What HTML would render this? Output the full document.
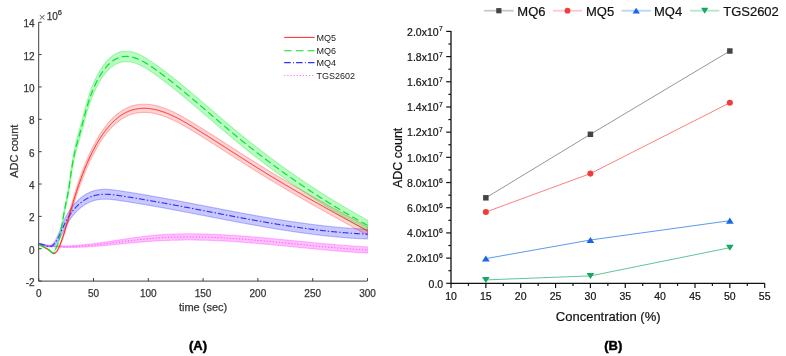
<!DOCTYPE html>
<html><head><meta charset="utf-8"><style>
html,body{margin:0;padding:0;background:#fff;}
svg{display:block;font-family:"Liberation Sans", sans-serif;will-change:transform;}
text.l{stroke:#3a3a3a;stroke-width:0.25;}
text.r{stroke:#111;stroke-width:0.2;}
</style></head><body>
<svg width="786" height="356" viewBox="0 0 786 356">
<rect width="786" height="356" fill="#fff"/>
<path d="M39.0,243.4 L39.5,243.5 L40.0,243.6 L40.5,243.8 L41.0,243.9 L41.5,244.0 L42.0,244.1 L42.5,244.2 L43.0,244.3 L43.5,244.4 L44.0,244.5 L44.5,244.5 L45.0,244.6 L45.5,244.7 L46.0,244.8 L46.5,244.9 L47.0,244.9 L47.5,245.0 L48.0,245.1 L48.5,245.1 L49.0,245.2 L49.5,245.3 L50.0,245.3 L50.5,245.4 L51.0,245.4 L51.5,245.5 L52.0,245.5 L52.5,245.5 L53.0,245.6 L53.5,245.6 L54.0,245.7 L54.5,245.7 L55.0,245.7 L55.5,245.7 L56.0,245.8 L56.5,245.8 L57.0,245.8 L57.5,245.8 L58.0,245.9 L58.5,245.9 L59.0,245.9 L59.5,245.9 L60.0,245.9 L60.5,245.9 L61.0,245.9 L61.5,245.9 L62.0,245.9 L62.5,245.9 L63.0,245.9 L63.5,245.9 L64.0,245.9 L64.5,245.9 L65.0,245.9 L65.5,245.9 L66.0,245.9 L66.5,245.9 L67.0,245.8 L67.5,245.8 L68.0,245.8 L68.5,245.8 L69.0,245.8 L69.5,245.7 L70.0,245.7 L70.5,245.7 L71.0,245.7 L71.5,245.6 L72.0,245.6 L72.5,245.6 L73.0,245.6 L73.5,245.5 L74.0,245.5 L74.5,245.5 L75.0,245.4 L75.5,245.4 L76.0,245.4 L76.5,245.3 L77.0,245.3 L77.5,245.3 L78.0,245.2 L78.5,245.2 L79.0,245.1 L79.5,245.1 L80.0,245.1 L80.5,245.0 L81.0,245.0 L81.5,244.9 L82.0,244.9 L82.5,244.8 L83.0,244.8 L83.5,244.7 L84.0,244.7 L84.5,244.6 L85.0,244.6 L85.5,244.5 L86.0,244.5 L86.5,244.4 L87.0,244.4 L87.5,244.3 L88.0,244.3 L88.5,244.2 L89.0,244.1 L89.5,244.1 L90.0,244.0 L90.5,244.0 L91.0,243.9 L91.5,243.9 L92.0,243.8 L92.5,243.7 L93.0,243.7 L93.5,243.6 L94.0,243.5 L94.5,243.5 L95.0,243.4 L95.5,243.4 L96.0,243.3 L96.5,243.2 L97.0,243.2 L97.5,243.1 L98.0,243.0 L98.5,243.0 L99.0,242.9 L99.5,242.8 L100.0,242.8 L100.5,242.7 L101.0,242.6 L101.5,242.5 L102.0,242.5 L102.5,242.4 L103.0,242.3 L103.5,242.3 L104.0,242.2 L104.5,242.1 L105.0,242.0 L105.5,242.0 L106.0,241.9 L106.5,241.8 L107.0,241.8 L107.5,241.7 L108.0,241.6 L108.5,241.5 L109.0,241.5 L109.5,241.4 L110.0,241.3 L110.5,241.2 L111.0,241.2 L111.5,241.1 L112.0,241.0 L112.5,240.9 L113.0,240.9 L113.5,240.8 L114.0,240.7 L114.5,240.6 L115.0,240.6 L115.5,240.5 L116.0,240.4 L116.5,240.3 L117.0,240.2 L117.5,240.2 L118.0,240.1 L118.5,240.0 L119.0,239.9 L119.5,239.9 L120.0,239.8 L120.5,239.7 L121.0,239.6 L121.5,239.6 L122.0,239.5 L122.5,239.4 L123.0,239.3 L123.5,239.3 L124.0,239.2 L124.5,239.1 L125.0,239.0 L125.5,239.0 L126.0,238.9 L126.5,238.8 L127.0,238.7 L127.5,238.7 L128.0,238.6 L128.5,238.5 L129.0,238.4 L129.5,238.4 L130.0,238.3 L130.5,238.2 L131.0,238.1 L131.5,238.1 L132.0,238.0 L132.5,237.9 L133.0,237.9 L133.5,237.8 L134.0,237.7 L134.5,237.7 L135.0,237.6 L135.5,237.5 L136.0,237.4 L136.5,237.4 L137.0,237.3 L137.5,237.2 L138.0,237.2 L138.5,237.1 L139.0,237.0 L139.5,237.0 L140.0,236.9 L140.5,236.8 L141.0,236.8 L141.5,236.7 L142.0,236.7 L142.5,236.6 L143.0,236.5 L143.5,236.5 L144.0,236.4 L144.5,236.3 L145.0,236.3 L145.5,236.2 L146.0,236.2 L146.5,236.1 L147.0,236.1 L147.5,236.0 L148.0,235.9 L148.5,235.9 L149.0,235.8 L149.5,235.8 L150.0,235.7 L150.5,235.7 L151.0,235.6 L151.5,235.6 L152.0,235.5 L152.5,235.5 L153.0,235.4 L153.5,235.4 L154.0,235.3 L154.5,235.3 L155.0,235.2 L155.5,235.2 L156.0,235.1 L156.5,235.1 L157.0,235.1 L157.5,235.0 L158.0,235.0 L158.5,234.9 L159.0,234.9 L159.5,234.9 L160.0,234.8 L160.5,234.8 L161.0,234.8 L161.5,234.7 L162.0,234.7 L162.5,234.6 L163.0,234.6 L163.5,234.6 L164.0,234.5 L164.5,234.5 L165.0,234.5 L165.5,234.5 L166.0,234.4 L166.5,234.4 L167.0,234.4 L167.5,234.3 L168.0,234.3 L168.5,234.3 L169.0,234.3 L169.5,234.2 L170.0,234.2 L170.5,234.2 L171.0,234.2 L171.5,234.2 L172.0,234.1 L172.5,234.1 L173.0,234.1 L173.5,234.1 L174.0,234.1 L174.5,234.0 L175.0,234.0 L175.5,234.0 L176.0,234.0 L176.5,234.0 L177.0,234.0 L177.5,234.0 L178.0,233.9 L178.5,233.9 L179.0,233.9 L179.5,233.9 L180.0,233.9 L180.5,233.9 L181.0,233.9 L181.5,233.9 L182.0,233.9 L182.5,233.9 L183.0,233.9 L183.5,233.8 L184.0,233.8 L184.5,233.8 L185.0,233.8 L185.5,233.8 L186.0,233.8 L186.5,233.8 L187.0,233.8 L187.5,233.8 L188.0,233.8 L188.5,233.8 L189.0,233.8 L189.5,233.8 L190.0,233.8 L190.5,233.8 L191.0,233.8 L191.5,233.8 L192.0,233.8 L192.5,233.8 L193.0,233.8 L193.5,233.8 L194.0,233.8 L194.5,233.8 L195.0,233.8 L195.5,233.8 L196.0,233.9 L196.5,233.9 L197.0,233.9 L197.5,233.9 L198.0,233.9 L198.5,233.9 L199.0,233.9 L199.5,233.9 L200.0,233.9 L200.5,233.9 L201.0,233.9 L201.5,233.9 L202.0,234.0 L202.5,234.0 L203.0,234.0 L203.5,234.0 L204.0,234.0 L204.5,234.0 L205.0,234.0 L205.5,234.0 L206.0,234.1 L206.5,234.1 L207.0,234.1 L207.5,234.1 L208.0,234.1 L208.5,234.1 L209.0,234.2 L209.5,234.2 L210.0,234.2 L210.5,234.2 L211.0,234.2 L211.5,234.2 L212.0,234.3 L212.5,234.3 L213.0,234.3 L213.5,234.3 L214.0,234.3 L214.5,234.4 L215.0,234.4 L215.5,234.4 L216.0,234.4 L216.5,234.5 L217.0,234.5 L217.5,234.5 L218.0,234.5 L218.5,234.5 L219.0,234.6 L219.5,234.6 L220.0,234.6 L220.5,234.6 L221.0,234.7 L221.5,234.7 L222.0,234.7 L222.5,234.7 L223.0,234.8 L223.5,234.8 L224.0,234.8 L224.5,234.9 L225.0,234.9 L225.5,234.9 L226.0,234.9 L226.5,235.0 L227.0,235.0 L227.5,235.0 L228.0,235.1 L228.5,235.1 L229.0,235.1 L229.5,235.1 L230.0,235.2 L230.5,235.2 L231.0,235.2 L231.5,235.3 L232.0,235.3 L232.5,235.3 L233.0,235.4 L233.5,235.4 L234.0,235.4 L234.5,235.5 L235.0,235.5 L235.5,235.5 L236.0,235.6 L236.5,235.6 L237.0,235.6 L237.5,235.7 L238.0,235.7 L238.5,235.7 L239.0,235.8 L239.5,235.8 L240.0,235.8 L240.5,235.9 L241.0,235.9 L241.5,236.0 L242.0,236.0 L242.5,236.0 L243.0,236.1 L243.5,236.1 L244.0,236.1 L244.5,236.2 L245.0,236.2 L245.5,236.3 L246.0,236.3 L246.5,236.3 L247.0,236.4 L247.5,236.4 L248.0,236.5 L248.5,236.5 L249.0,236.5 L249.5,236.6 L250.0,236.6 L250.5,236.7 L251.0,236.7 L251.5,236.7 L252.0,236.8 L252.5,236.8 L253.0,236.9 L253.5,236.9 L254.0,237.0 L254.5,237.0 L255.0,237.0 L255.5,237.1 L256.0,237.1 L256.5,237.2 L257.0,237.2 L257.5,237.3 L258.0,237.3 L258.5,237.3 L259.0,237.4 L259.5,237.4 L260.0,237.5 L260.5,237.5 L261.0,237.6 L261.5,237.6 L262.0,237.7 L262.5,237.7 L263.0,237.7 L263.5,237.8 L264.0,237.8 L264.5,237.9 L265.0,237.9 L265.5,238.0 L266.0,238.0 L266.5,238.1 L267.0,238.1 L267.5,238.2 L268.0,238.2 L268.5,238.2 L269.0,238.3 L269.5,238.3 L270.0,238.4 L270.5,238.4 L271.0,238.5 L271.5,238.5 L272.0,238.6 L272.5,238.6 L273.0,238.7 L273.5,238.7 L274.0,238.8 L274.5,238.8 L275.0,238.9 L275.5,238.9 L276.0,239.0 L276.5,239.0 L277.0,239.1 L277.5,239.1 L278.0,239.2 L278.5,239.2 L279.0,239.2 L279.5,239.3 L280.0,239.3 L280.5,239.4 L281.0,239.4 L281.5,239.5 L282.0,239.5 L282.5,239.6 L283.0,239.6 L283.5,239.7 L284.0,239.7 L284.5,239.8 L285.0,239.8 L285.5,239.9 L286.0,239.9 L286.5,240.0 L287.0,240.0 L287.5,240.1 L288.0,240.1 L288.5,240.2 L289.0,240.2 L289.5,240.3 L290.0,240.3 L290.5,240.4 L291.0,240.4 L291.5,240.5 L292.0,240.5 L292.5,240.6 L293.0,240.6 L293.5,240.7 L294.0,240.7 L294.5,240.8 L295.0,240.8 L295.5,240.9 L296.0,240.9 L296.5,241.0 L297.0,241.0 L297.5,241.1 L298.0,241.1 L298.5,241.2 L299.0,241.2 L299.5,241.3 L300.0,241.3 L300.5,241.4 L301.0,241.4 L301.5,241.5 L302.0,241.5 L302.5,241.6 L303.0,241.6 L303.5,241.7 L304.0,241.7 L304.5,241.8 L305.0,241.8 L305.5,241.9 L306.0,241.9 L306.5,242.0 L307.0,242.0 L307.5,242.1 L308.0,242.1 L308.5,242.2 L309.0,242.2 L309.5,242.3 L310.0,242.3 L310.5,242.4 L311.0,242.4 L311.5,242.5 L312.0,242.5 L312.5,242.6 L313.0,242.6 L313.5,242.7 L314.0,242.7 L314.5,242.7 L315.0,242.8 L315.5,242.8 L316.0,242.9 L316.5,242.9 L317.0,243.0 L317.5,243.0 L318.0,243.1 L318.5,243.1 L319.0,243.2 L319.5,243.2 L320.0,243.3 L320.5,243.3 L321.0,243.4 L321.5,243.4 L322.0,243.5 L322.5,243.5 L323.0,243.5 L323.5,243.6 L324.0,243.6 L324.5,243.7 L325.0,243.7 L325.5,243.8 L326.0,243.8 L326.5,243.9 L327.0,243.9 L327.5,244.0 L328.0,244.0 L328.5,244.1 L329.0,244.1 L329.5,244.1 L330.0,244.2 L330.5,244.2 L331.0,244.3 L331.5,244.3 L332.0,244.4 L332.5,244.4 L333.0,244.4 L333.5,244.5 L334.0,244.5 L334.5,244.6 L335.0,244.6 L335.5,244.7 L336.0,244.7 L336.5,244.7 L337.0,244.8 L337.5,244.8 L338.0,244.9 L338.5,244.9 L339.0,245.0 L339.5,245.0 L340.0,245.0 L340.5,245.1 L341.0,245.1 L341.5,245.2 L342.0,245.2 L342.5,245.2 L343.0,245.3 L343.5,245.3 L344.0,245.4 L344.5,245.4 L345.0,245.4 L345.5,245.5 L346.0,245.5 L346.5,245.5 L347.0,245.6 L347.5,245.6 L348.0,245.7 L348.5,245.7 L349.0,245.7 L349.5,245.8 L350.0,245.8 L350.5,245.8 L351.0,245.9 L351.5,245.9 L352.0,246.0 L352.5,246.0 L353.0,246.0 L353.5,246.1 L354.0,246.1 L354.5,246.1 L355.0,246.2 L355.5,246.2 L356.0,246.2 L356.5,246.3 L357.0,246.3 L357.5,246.3 L358.0,246.4 L358.5,246.4 L359.0,246.4 L359.5,246.4 L360.0,246.5 L360.5,246.5 L361.0,246.5 L361.5,246.6 L362.0,246.6 L362.5,246.6 L363.0,246.7 L363.5,246.7 L364.0,246.7 L364.5,246.7 L365.0,246.8 L365.5,246.8 L366.0,246.8 L366.5,246.9 L367.0,246.9 L367.5,246.9 L367.5,253.1 L367.0,253.1 L366.5,253.1 L366.0,253.0 L365.5,253.0 L365.0,253.0 L364.5,252.9 L364.0,252.9 L363.5,252.9 L363.0,252.9 L362.5,252.8 L362.0,252.8 L361.5,252.8 L361.0,252.7 L360.5,252.7 L360.0,252.7 L359.5,252.6 L359.0,252.6 L358.5,252.6 L358.0,252.6 L357.5,252.5 L357.0,252.5 L356.5,252.5 L356.0,252.4 L355.5,252.4 L355.0,252.4 L354.5,252.3 L354.0,252.3 L353.5,252.3 L353.0,252.2 L352.5,252.2 L352.0,252.2 L351.5,252.1 L351.0,252.1 L350.5,252.0 L350.0,252.0 L349.5,252.0 L349.0,251.9 L348.5,251.9 L348.0,251.9 L347.5,251.8 L347.0,251.8 L346.5,251.7 L346.0,251.7 L345.5,251.7 L345.0,251.6 L344.5,251.6 L344.0,251.6 L343.5,251.5 L343.0,251.5 L342.5,251.4 L342.0,251.4 L341.5,251.4 L341.0,251.3 L340.5,251.3 L340.0,251.2 L339.5,251.2 L339.0,251.2 L338.5,251.1 L338.0,251.1 L337.5,251.0 L337.0,251.0 L336.5,250.9 L336.0,250.9 L335.5,250.9 L335.0,250.8 L334.5,250.8 L334.0,250.7 L333.5,250.7 L333.0,250.6 L332.5,250.6 L332.0,250.6 L331.5,250.5 L331.0,250.5 L330.5,250.4 L330.0,250.4 L329.5,250.3 L329.0,250.3 L328.5,250.3 L328.0,250.2 L327.5,250.2 L327.0,250.1 L326.5,250.1 L326.0,250.0 L325.5,250.0 L325.0,249.9 L324.5,249.9 L324.0,249.8 L323.5,249.8 L323.0,249.7 L322.5,249.7 L322.0,249.7 L321.5,249.6 L321.0,249.6 L320.5,249.5 L320.0,249.5 L319.5,249.4 L319.0,249.4 L318.5,249.3 L318.0,249.3 L317.5,249.2 L317.0,249.2 L316.5,249.1 L316.0,249.1 L315.5,249.0 L315.0,249.0 L314.5,248.9 L314.0,248.9 L313.5,248.9 L313.0,248.8 L312.5,248.8 L312.0,248.7 L311.5,248.7 L311.0,248.6 L310.5,248.6 L310.0,248.5 L309.5,248.5 L309.0,248.4 L308.5,248.4 L308.0,248.3 L307.5,248.3 L307.0,248.2 L306.5,248.2 L306.0,248.1 L305.5,248.1 L305.0,248.0 L304.5,248.0 L304.0,247.9 L303.5,247.9 L303.0,247.8 L302.5,247.8 L302.0,247.7 L301.5,247.7 L301.0,247.6 L300.5,247.6 L300.0,247.5 L299.5,247.5 L299.0,247.4 L298.5,247.4 L298.0,247.3 L297.5,247.3 L297.0,247.2 L296.5,247.2 L296.0,247.1 L295.5,247.1 L295.0,247.0 L294.5,247.0 L294.0,246.9 L293.5,246.9 L293.0,246.8 L292.5,246.8 L292.0,246.7 L291.5,246.7 L291.0,246.6 L290.5,246.6 L290.0,246.5 L289.5,246.5 L289.0,246.4 L288.5,246.4 L288.0,246.3 L287.5,246.3 L287.0,246.2 L286.5,246.2 L286.0,246.1 L285.5,246.1 L285.0,246.0 L284.5,246.0 L284.0,245.9 L283.5,245.9 L283.0,245.8 L282.5,245.8 L282.0,245.7 L281.5,245.7 L281.0,245.6 L280.5,245.6 L280.0,245.5 L279.5,245.5 L279.0,245.4 L278.5,245.4 L278.0,245.4 L277.5,245.3 L277.0,245.3 L276.5,245.2 L276.0,245.2 L275.5,245.1 L275.0,245.1 L274.5,245.0 L274.0,245.0 L273.5,244.9 L273.0,244.9 L272.5,244.8 L272.0,244.8 L271.5,244.7 L271.0,244.7 L270.5,244.6 L270.0,244.6 L269.5,244.5 L269.0,244.5 L268.5,244.4 L268.0,244.4 L267.5,244.4 L267.0,244.3 L266.5,244.3 L266.0,244.2 L265.5,244.2 L265.0,244.1 L264.5,244.1 L264.0,244.0 L263.5,244.0 L263.0,243.9 L262.5,243.9 L262.0,243.9 L261.5,243.8 L261.0,243.8 L260.5,243.7 L260.0,243.7 L259.5,243.6 L259.0,243.6 L258.5,243.5 L258.0,243.5 L257.5,243.5 L257.0,243.4 L256.5,243.4 L256.0,243.3 L255.5,243.3 L255.0,243.2 L254.5,243.2 L254.0,243.2 L253.5,243.1 L253.0,243.1 L252.5,243.0 L252.0,243.0 L251.5,242.9 L251.0,242.9 L250.5,242.9 L250.0,242.8 L249.5,242.8 L249.0,242.7 L248.5,242.7 L248.0,242.7 L247.5,242.6 L247.0,242.6 L246.5,242.5 L246.0,242.5 L245.5,242.5 L245.0,242.4 L244.5,242.4 L244.0,242.3 L243.5,242.3 L243.0,242.3 L242.5,242.2 L242.0,242.2 L241.5,242.2 L241.0,242.1 L240.5,242.1 L240.0,242.0 L239.5,242.0 L239.0,242.0 L238.5,241.9 L238.0,241.9 L237.5,241.9 L237.0,241.8 L236.5,241.8 L236.0,241.8 L235.5,241.7 L235.0,241.7 L234.5,241.7 L234.0,241.6 L233.5,241.6 L233.0,241.6 L232.5,241.5 L232.0,241.5 L231.5,241.5 L231.0,241.4 L230.5,241.4 L230.0,241.4 L229.5,241.3 L229.0,241.3 L228.5,241.3 L228.0,241.3 L227.5,241.2 L227.0,241.2 L226.5,241.2 L226.0,241.1 L225.5,241.1 L225.0,241.1 L224.5,241.1 L224.0,241.0 L223.5,241.0 L223.0,241.0 L222.5,240.9 L222.0,240.9 L221.5,240.9 L221.0,240.9 L220.5,240.8 L220.0,240.8 L219.5,240.8 L219.0,240.8 L218.5,240.7 L218.0,240.7 L217.5,240.7 L217.0,240.7 L216.5,240.7 L216.0,240.6 L215.5,240.6 L215.0,240.6 L214.5,240.6 L214.0,240.5 L213.5,240.5 L213.0,240.5 L212.5,240.5 L212.0,240.5 L211.5,240.4 L211.0,240.4 L210.5,240.4 L210.0,240.4 L209.5,240.4 L209.0,240.4 L208.5,240.3 L208.0,240.3 L207.5,240.3 L207.0,240.3 L206.5,240.3 L206.0,240.3 L205.5,240.2 L205.0,240.2 L204.5,240.2 L204.0,240.2 L203.5,240.2 L203.0,240.2 L202.5,240.2 L202.0,240.2 L201.5,240.1 L201.0,240.1 L200.5,240.1 L200.0,240.1 L199.5,240.1 L199.0,240.1 L198.5,240.1 L198.0,240.1 L197.5,240.1 L197.0,240.1 L196.5,240.1 L196.0,240.1 L195.5,240.0 L195.0,240.0 L194.5,240.0 L194.0,240.0 L193.5,240.0 L193.0,240.0 L192.5,240.0 L192.0,240.0 L191.5,240.0 L191.0,240.0 L190.5,240.0 L190.0,240.0 L189.5,240.0 L189.0,240.0 L188.5,240.0 L188.0,240.0 L187.5,240.0 L187.0,240.0 L186.5,240.0 L186.0,240.0 L185.5,240.0 L185.0,240.0 L184.5,240.0 L184.0,240.0 L183.5,240.0 L183.0,240.1 L182.5,240.1 L182.0,240.1 L181.5,240.1 L181.0,240.1 L180.5,240.1 L180.0,240.1 L179.5,240.1 L179.0,240.1 L178.5,240.1 L178.0,240.1 L177.5,240.1 L177.0,240.2 L176.5,240.2 L176.0,240.2 L175.5,240.2 L175.0,240.2 L174.5,240.2 L174.0,240.2 L173.5,240.2 L173.0,240.3 L172.5,240.3 L172.0,240.3 L171.5,240.3 L171.0,240.3 L170.5,240.3 L170.0,240.3 L169.5,240.4 L169.0,240.4 L168.5,240.4 L168.0,240.4 L167.5,240.4 L167.0,240.5 L166.5,240.5 L166.0,240.5 L165.5,240.5 L165.0,240.5 L164.5,240.6 L164.0,240.6 L163.5,240.6 L163.0,240.6 L162.5,240.6 L162.0,240.7 L161.5,240.7 L161.0,240.7 L160.5,240.7 L160.0,240.8 L159.5,240.8 L159.0,240.8 L158.5,240.8 L158.0,240.9 L157.5,240.9 L157.0,240.9 L156.5,241.0 L156.0,241.0 L155.5,241.0 L155.0,241.0 L154.5,241.1 L154.0,241.1 L153.5,241.1 L153.0,241.2 L152.5,241.2 L152.0,241.2 L151.5,241.3 L151.0,241.3 L150.5,241.3 L150.0,241.4 L149.5,241.4 L149.0,241.4 L148.5,241.5 L148.0,241.5 L147.5,241.5 L147.0,241.6 L146.5,241.6 L146.0,241.7 L145.5,241.7 L145.0,241.7 L144.5,241.8 L144.0,241.8 L143.5,241.9 L143.0,241.9 L142.5,241.9 L142.0,242.0 L141.5,242.0 L141.0,242.1 L140.5,242.1 L140.0,242.2 L139.5,242.2 L139.0,242.2 L138.5,242.3 L138.0,242.3 L137.5,242.4 L137.0,242.4 L136.5,242.5 L136.0,242.5 L135.5,242.6 L135.0,242.6 L134.5,242.7 L134.0,242.7 L133.5,242.8 L133.0,242.8 L132.5,242.9 L132.0,242.9 L131.5,242.9 L131.0,243.0 L130.5,243.0 L130.0,243.1 L129.5,243.1 L129.0,243.2 L128.5,243.2 L128.0,243.3 L127.5,243.3 L127.0,243.4 L126.5,243.4 L126.0,243.5 L125.5,243.5 L125.0,243.6 L124.5,243.6 L124.0,243.7 L123.5,243.7 L123.0,243.8 L122.5,243.8 L122.0,243.9 L121.5,243.9 L121.0,244.0 L120.5,244.0 L120.0,244.1 L119.5,244.1 L119.0,244.2 L118.5,244.2 L118.0,244.3 L117.5,244.3 L117.0,244.4 L116.5,244.4 L116.0,244.5 L115.5,244.5 L115.0,244.6 L114.5,244.6 L114.0,244.7 L113.5,244.7 L113.0,244.8 L112.5,244.8 L112.0,244.9 L111.5,244.9 L111.0,245.0 L110.5,245.0 L110.0,245.1 L109.5,245.1 L109.0,245.2 L108.5,245.2 L108.0,245.3 L107.5,245.3 L107.0,245.4 L106.5,245.4 L106.0,245.5 L105.5,245.5 L105.0,245.5 L104.5,245.6 L104.0,245.6 L103.5,245.7 L103.0,245.7 L102.5,245.8 L102.0,245.8 L101.5,245.9 L101.0,245.9 L100.5,245.9 L100.0,246.0 L99.5,246.0 L99.0,246.1 L98.5,246.1 L98.0,246.1 L97.5,246.2 L97.0,246.2 L96.5,246.3 L96.0,246.3 L95.5,246.3 L95.0,246.4 L94.5,246.4 L94.0,246.5 L93.5,246.5 L93.0,246.5 L92.5,246.6 L92.0,246.6 L91.5,246.6 L91.0,246.7 L90.5,246.7 L90.0,246.7 L89.5,246.8 L89.0,246.8 L88.5,246.8 L88.0,246.9 L87.5,246.9 L87.0,246.9 L86.5,246.9 L86.0,247.0 L85.5,247.0 L85.0,247.0 L84.5,247.1 L84.0,247.1 L83.5,247.1 L83.0,247.1 L82.5,247.1 L82.0,247.2 L81.5,247.2 L81.0,247.2 L80.5,247.2 L80.0,247.3 L79.5,247.3 L79.0,247.3 L78.5,247.3 L78.0,247.3 L77.5,247.3 L77.0,247.4 L76.5,247.4 L76.0,247.4 L75.5,247.4 L75.0,247.4 L74.5,247.4 L74.0,247.4 L73.5,247.4 L73.0,247.4 L72.5,247.4 L72.0,247.5 L71.5,247.5 L71.0,247.5 L70.5,247.5 L70.0,247.5 L69.5,247.5 L69.0,247.5 L68.5,247.5 L68.0,247.5 L67.5,247.5 L67.0,247.5 L66.5,247.5 L66.0,247.4 L65.5,247.4 L65.0,247.4 L64.5,247.4 L64.0,247.4 L63.5,247.4 L63.0,247.4 L62.5,247.4 L62.0,247.3 L61.5,247.3 L61.0,247.3 L60.5,247.3 L60.0,247.3 L59.5,247.2 L59.0,247.2 L58.5,247.2 L58.0,247.1 L57.5,247.1 L57.0,247.1 L56.5,247.0 L56.0,247.0 L55.5,247.0 L55.0,246.9 L54.5,246.9 L54.0,246.8 L53.5,246.8 L53.0,246.7 L52.5,246.7 L52.0,246.6 L51.5,246.6 L51.0,246.5 L50.5,246.4 L50.0,246.4 L49.5,246.3 L49.0,246.2 L48.5,246.2 L48.0,246.1 L47.5,246.0 L47.0,245.9 L46.5,245.8 L46.0,245.8 L45.5,245.7 L45.0,245.6 L44.5,245.5 L44.0,245.4 L43.5,245.3 L43.0,245.2 L42.5,245.1 L42.0,245.0 L41.5,244.9 L41.0,244.7 L40.5,244.6 L40.0,244.5 L39.5,244.4 L39.0,244.3 Z" fill="#ff00ff" fill-opacity="0.24" stroke="#ff00ff" stroke-opacity="0.25" stroke-width="1.1"/>
<path d="M39.0,243.8 L39.5,243.7 L40.0,243.7 L40.5,243.7 L41.0,243.7 L41.5,243.8 L42.0,243.9 L42.5,244.1 L43.0,244.2 L43.5,244.4 L44.0,244.6 L44.5,244.8 L45.0,245.0 L45.5,245.2 L46.0,245.4 L46.5,245.5 L47.0,245.7 L47.5,245.8 L48.0,245.9 L48.5,246.0 L49.0,246.0 L49.5,246.0 L50.0,245.9 L50.5,245.7 L51.0,245.4 L51.5,245.1 L52.0,244.7 L52.5,244.3 L53.0,243.8 L53.5,243.2 L54.0,242.5 L54.5,241.8 L55.0,241.0 L55.5,240.2 L56.0,239.3 L56.5,238.3 L57.0,237.3 L57.5,236.2 L58.0,235.1 L58.5,234.0 L59.0,232.8 L59.5,231.6 L60.0,230.3 L60.5,229.1 L61.0,227.8 L61.5,226.5 L62.0,225.3 L62.5,224.1 L63.0,222.8 L63.5,221.7 L64.0,220.5 L64.5,219.4 L65.0,218.3 L65.5,217.3 L66.0,216.3 L66.5,215.4 L67.0,214.5 L67.5,213.7 L68.0,212.8 L68.5,212.0 L69.0,211.2 L69.5,210.5 L70.0,209.7 L70.5,209.0 L71.0,208.3 L71.5,207.6 L72.0,207.0 L72.5,206.3 L73.0,205.7 L73.5,205.1 L74.0,204.5 L74.5,204.0 L75.0,203.4 L75.5,202.8 L76.0,202.3 L76.5,201.8 L77.0,201.3 L77.5,200.8 L78.0,200.3 L78.5,199.8 L79.0,199.4 L79.5,198.9 L80.0,198.5 L80.5,198.1 L81.0,197.7 L81.5,197.3 L82.0,196.9 L82.5,196.5 L83.0,196.1 L83.5,195.8 L84.0,195.5 L84.5,195.1 L85.0,194.8 L85.5,194.5 L86.0,194.2 L86.5,193.9 L87.0,193.6 L87.5,193.4 L88.0,193.1 L88.5,192.9 L89.0,192.6 L89.5,192.4 L90.0,192.2 L90.5,192.0 L91.0,191.8 L91.5,191.6 L92.0,191.4 L92.5,191.3 L93.0,191.1 L93.5,191.0 L94.0,190.8 L94.5,190.7 L95.0,190.5 L95.5,190.4 L96.0,190.3 L96.5,190.2 L97.0,190.1 L97.5,190.0 L98.0,189.9 L98.5,189.8 L99.0,189.8 L99.5,189.7 L100.0,189.6 L100.5,189.6 L101.0,189.5 L101.5,189.5 L102.0,189.5 L102.5,189.4 L103.0,189.4 L103.5,189.4 L104.0,189.4 L104.5,189.4 L105.0,189.4 L105.5,189.4 L106.0,189.4 L106.5,189.4 L107.0,189.4 L107.5,189.4 L108.0,189.5 L108.5,189.5 L109.0,189.5 L109.5,189.5 L110.0,189.6 L110.5,189.6 L111.0,189.7 L111.5,189.7 L112.0,189.8 L112.5,189.8 L113.0,189.9 L113.5,189.9 L114.0,190.0 L114.5,190.1 L115.0,190.1 L115.5,190.2 L116.0,190.3 L116.5,190.3 L117.0,190.4 L117.5,190.5 L118.0,190.5 L118.5,190.6 L119.0,190.7 L119.5,190.8 L120.0,190.8 L120.5,190.9 L121.0,191.0 L121.5,191.1 L122.0,191.1 L122.5,191.2 L123.0,191.3 L123.5,191.4 L124.0,191.4 L124.5,191.5 L125.0,191.6 L125.5,191.7 L126.0,191.7 L126.5,191.8 L127.0,191.9 L127.5,192.0 L128.0,192.1 L128.5,192.1 L129.0,192.2 L129.5,192.3 L130.0,192.4 L130.5,192.5 L131.0,192.5 L131.5,192.6 L132.0,192.7 L132.5,192.8 L133.0,192.9 L133.5,192.9 L134.0,193.0 L134.5,193.1 L135.0,193.2 L135.5,193.3 L136.0,193.3 L136.5,193.4 L137.0,193.5 L137.5,193.6 L138.0,193.7 L138.5,193.8 L139.0,193.8 L139.5,193.9 L140.0,194.0 L140.5,194.1 L141.0,194.2 L141.5,194.3 L142.0,194.3 L142.5,194.4 L143.0,194.5 L143.5,194.6 L144.0,194.7 L144.5,194.8 L145.0,194.9 L145.5,194.9 L146.0,195.0 L146.5,195.1 L147.0,195.2 L147.5,195.3 L148.0,195.4 L148.5,195.5 L149.0,195.6 L149.5,195.6 L150.0,195.7 L150.5,195.8 L151.0,195.9 L151.5,196.0 L152.0,196.1 L152.5,196.2 L153.0,196.3 L153.5,196.3 L154.0,196.4 L154.5,196.5 L155.0,196.6 L155.5,196.7 L156.0,196.8 L156.5,196.9 L157.0,197.0 L157.5,197.1 L158.0,197.1 L158.5,197.2 L159.0,197.3 L159.5,197.4 L160.0,197.5 L160.5,197.6 L161.0,197.7 L161.5,197.8 L162.0,197.9 L162.5,198.0 L163.0,198.1 L163.5,198.1 L164.0,198.2 L164.5,198.3 L165.0,198.4 L165.5,198.5 L166.0,198.6 L166.5,198.7 L167.0,198.8 L167.5,198.9 L168.0,199.0 L168.5,199.1 L169.0,199.2 L169.5,199.2 L170.0,199.3 L170.5,199.4 L171.0,199.5 L171.5,199.6 L172.0,199.7 L172.5,199.8 L173.0,199.9 L173.5,200.0 L174.0,200.1 L174.5,200.2 L175.0,200.3 L175.5,200.4 L176.0,200.5 L176.5,200.6 L177.0,200.6 L177.5,200.7 L178.0,200.8 L178.5,200.9 L179.0,201.0 L179.5,201.1 L180.0,201.2 L180.5,201.3 L181.0,201.4 L181.5,201.5 L182.0,201.6 L182.5,201.7 L183.0,201.8 L183.5,201.9 L184.0,202.0 L184.5,202.1 L185.0,202.2 L185.5,202.3 L186.0,202.4 L186.5,202.5 L187.0,202.5 L187.5,202.6 L188.0,202.7 L188.5,202.8 L189.0,202.9 L189.5,203.0 L190.0,203.1 L190.5,203.2 L191.0,203.3 L191.5,203.4 L192.0,203.5 L192.5,203.6 L193.0,203.7 L193.5,203.8 L194.0,203.9 L194.5,204.0 L195.0,204.1 L195.5,204.2 L196.0,204.3 L196.5,204.4 L197.0,204.5 L197.5,204.6 L198.0,204.7 L198.5,204.8 L199.0,204.9 L199.5,205.0 L200.0,205.0 L200.5,205.1 L201.0,205.2 L201.5,205.3 L202.0,205.4 L202.5,205.5 L203.0,205.6 L203.5,205.7 L204.0,205.8 L204.5,205.9 L205.0,206.0 L205.5,206.1 L206.0,206.2 L206.5,206.3 L207.0,206.4 L207.5,206.5 L208.0,206.6 L208.5,206.7 L209.0,206.8 L209.5,206.9 L210.0,207.0 L210.5,207.1 L211.0,207.2 L211.5,207.3 L212.0,207.4 L212.5,207.5 L213.0,207.6 L213.5,207.7 L214.0,207.8 L214.5,207.9 L215.0,207.9 L215.5,208.0 L216.0,208.1 L216.5,208.2 L217.0,208.3 L217.5,208.4 L218.0,208.5 L218.5,208.6 L219.0,208.7 L219.5,208.8 L220.0,208.9 L220.5,209.0 L221.0,209.1 L221.5,209.2 L222.0,209.3 L222.5,209.4 L223.0,209.5 L223.5,209.6 L224.0,209.7 L224.5,209.8 L225.0,209.9 L225.5,210.0 L226.0,210.1 L226.5,210.2 L227.0,210.3 L227.5,210.4 L228.0,210.4 L228.5,210.5 L229.0,210.6 L229.5,210.7 L230.0,210.8 L230.5,210.9 L231.0,211.0 L231.5,211.1 L232.0,211.2 L232.5,211.3 L233.0,211.4 L233.5,211.5 L234.0,211.6 L234.5,211.7 L235.0,211.8 L235.5,211.9 L236.0,212.0 L236.5,212.1 L237.0,212.1 L237.5,212.2 L238.0,212.3 L238.5,212.4 L239.0,212.5 L239.5,212.6 L240.0,212.7 L240.5,212.8 L241.0,212.9 L241.5,213.0 L242.0,213.1 L242.5,213.2 L243.0,213.3 L243.5,213.4 L244.0,213.5 L244.5,213.5 L245.0,213.6 L245.5,213.7 L246.0,213.8 L246.5,213.9 L247.0,214.0 L247.5,214.1 L248.0,214.2 L248.5,214.3 L249.0,214.4 L249.5,214.5 L250.0,214.6 L250.5,214.6 L251.0,214.7 L251.5,214.8 L252.0,214.9 L252.5,215.0 L253.0,215.1 L253.5,215.2 L254.0,215.3 L254.5,215.4 L255.0,215.5 L255.5,215.6 L256.0,215.6 L256.5,215.7 L257.0,215.8 L257.5,215.9 L258.0,216.0 L258.5,216.1 L259.0,216.2 L259.5,216.3 L260.0,216.4 L260.5,216.4 L261.0,216.5 L261.5,216.6 L262.0,216.7 L262.5,216.8 L263.0,216.9 L263.5,217.0 L264.0,217.1 L264.5,217.1 L265.0,217.2 L265.5,217.3 L266.0,217.4 L266.5,217.5 L267.0,217.6 L267.5,217.7 L268.0,217.7 L268.5,217.8 L269.0,217.9 L269.5,218.0 L270.0,218.1 L270.5,218.2 L271.0,218.3 L271.5,218.3 L272.0,218.4 L272.5,218.5 L273.0,218.6 L273.5,218.7 L274.0,218.8 L274.5,218.8 L275.0,218.9 L275.5,219.0 L276.0,219.1 L276.5,219.2 L277.0,219.3 L277.5,219.3 L278.0,219.4 L278.5,219.5 L279.0,219.6 L279.5,219.7 L280.0,219.7 L280.5,219.8 L281.0,219.9 L281.5,220.0 L282.0,220.1 L282.5,220.1 L283.0,220.2 L283.5,220.3 L284.0,220.4 L284.5,220.5 L285.0,220.5 L285.5,220.6 L286.0,220.7 L286.5,220.8 L287.0,220.8 L287.5,220.9 L288.0,221.0 L288.5,221.1 L289.0,221.2 L289.5,221.2 L290.0,221.3 L290.5,221.4 L291.0,221.5 L291.5,221.5 L292.0,221.6 L292.5,221.7 L293.0,221.8 L293.5,221.8 L294.0,221.9 L294.5,222.0 L295.0,222.1 L295.5,222.1 L296.0,222.2 L296.5,222.3 L297.0,222.4 L297.5,222.4 L298.0,222.5 L298.5,222.6 L299.0,222.6 L299.5,222.7 L300.0,222.8 L300.5,222.9 L301.0,222.9 L301.5,223.0 L302.0,223.1 L302.5,223.1 L303.0,223.2 L303.5,223.3 L304.0,223.3 L304.5,223.4 L305.0,223.5 L305.5,223.5 L306.0,223.6 L306.5,223.7 L307.0,223.7 L307.5,223.8 L308.0,223.9 L308.5,223.9 L309.0,224.0 L309.5,224.1 L310.0,224.1 L310.5,224.2 L311.0,224.3 L311.5,224.3 L312.0,224.4 L312.5,224.5 L313.0,224.5 L313.5,224.6 L314.0,224.7 L314.5,224.7 L315.0,224.8 L315.5,224.8 L316.0,224.9 L316.5,225.0 L317.0,225.0 L317.5,225.1 L318.0,225.1 L318.5,225.2 L319.0,225.3 L319.5,225.3 L320.0,225.4 L320.5,225.4 L321.0,225.5 L321.5,225.6 L322.0,225.6 L322.5,225.7 L323.0,225.7 L323.5,225.8 L324.0,225.8 L324.5,225.9 L325.0,226.0 L325.5,226.0 L326.0,226.1 L326.5,226.1 L327.0,226.2 L327.5,226.2 L328.0,226.3 L328.5,226.3 L329.0,226.4 L329.5,226.4 L330.0,226.5 L330.5,226.5 L331.0,226.6 L331.5,226.6 L332.0,226.7 L332.5,226.7 L333.0,226.8 L333.5,226.8 L334.0,226.9 L334.5,226.9 L335.0,227.0 L335.5,227.0 L336.0,227.1 L336.5,227.1 L337.0,227.2 L337.5,227.2 L338.0,227.3 L338.5,227.3 L339.0,227.4 L339.5,227.4 L340.0,227.4 L340.5,227.5 L341.0,227.5 L341.5,227.6 L342.0,227.6 L342.5,227.7 L343.0,227.7 L343.5,227.7 L344.0,227.8 L344.5,227.8 L345.0,227.9 L345.5,227.9 L346.0,227.9 L346.5,228.0 L347.0,228.0 L347.5,228.1 L348.0,228.1 L348.5,228.1 L349.0,228.2 L349.5,228.2 L350.0,228.3 L350.5,228.3 L351.0,228.3 L351.5,228.4 L352.0,228.4 L352.5,228.4 L353.0,228.5 L353.5,228.5 L354.0,228.5 L354.5,228.6 L355.0,228.6 L355.5,228.6 L356.0,228.7 L356.5,228.7 L357.0,228.7 L357.5,228.7 L358.0,228.8 L358.5,228.8 L359.0,228.8 L359.5,228.9 L360.0,228.9 L360.5,228.9 L361.0,228.9 L361.5,229.0 L362.0,229.0 L362.5,229.0 L363.0,229.0 L363.5,229.1 L364.0,229.1 L364.5,229.1 L365.0,229.1 L365.5,229.2 L366.0,229.2 L366.5,229.2 L367.0,229.2 L367.5,229.2 L367.5,239.0 L367.0,239.0 L366.5,239.0 L366.0,239.0 L365.5,239.0 L365.0,238.9 L364.5,238.9 L364.0,238.9 L363.5,238.9 L363.0,238.8 L362.5,238.8 L362.0,238.8 L361.5,238.8 L361.0,238.7 L360.5,238.7 L360.0,238.7 L359.5,238.7 L359.0,238.6 L358.5,238.6 L358.0,238.6 L357.5,238.5 L357.0,238.5 L356.5,238.5 L356.0,238.5 L355.5,238.4 L355.0,238.4 L354.5,238.4 L354.0,238.3 L353.5,238.3 L353.0,238.3 L352.5,238.2 L352.0,238.2 L351.5,238.2 L351.0,238.1 L350.5,238.1 L350.0,238.1 L349.5,238.0 L349.0,238.0 L348.5,237.9 L348.0,237.9 L347.5,237.9 L347.0,237.8 L346.5,237.8 L346.0,237.7 L345.5,237.7 L345.0,237.7 L344.5,237.6 L344.0,237.6 L343.5,237.5 L343.0,237.5 L342.5,237.5 L342.0,237.4 L341.5,237.4 L341.0,237.3 L340.5,237.3 L340.0,237.2 L339.5,237.2 L339.0,237.2 L338.5,237.1 L338.0,237.1 L337.5,237.0 L337.0,237.0 L336.5,236.9 L336.0,236.9 L335.5,236.8 L335.0,236.8 L334.5,236.7 L334.0,236.7 L333.5,236.6 L333.0,236.6 L332.5,236.5 L332.0,236.5 L331.5,236.4 L331.0,236.4 L330.5,236.3 L330.0,236.3 L329.5,236.2 L329.0,236.2 L328.5,236.1 L328.0,236.1 L327.5,236.0 L327.0,236.0 L326.5,235.9 L326.0,235.9 L325.5,235.8 L325.0,235.8 L324.5,235.7 L324.0,235.6 L323.5,235.6 L323.0,235.5 L322.5,235.5 L322.0,235.4 L321.5,235.4 L321.0,235.3 L320.5,235.2 L320.0,235.2 L319.5,235.1 L319.0,235.1 L318.5,235.0 L318.0,234.9 L317.5,234.9 L317.0,234.8 L316.5,234.8 L316.0,234.7 L315.5,234.6 L315.0,234.6 L314.5,234.5 L314.0,234.5 L313.5,234.4 L313.0,234.3 L312.5,234.3 L312.0,234.2 L311.5,234.1 L311.0,234.1 L310.5,234.0 L310.0,233.9 L309.5,233.9 L309.0,233.8 L308.5,233.7 L308.0,233.7 L307.5,233.6 L307.0,233.5 L306.5,233.5 L306.0,233.4 L305.5,233.3 L305.0,233.3 L304.5,233.2 L304.0,233.1 L303.5,233.1 L303.0,233.0 L302.5,232.9 L302.0,232.9 L301.5,232.8 L301.0,232.7 L300.5,232.7 L300.0,232.6 L299.5,232.5 L299.0,232.4 L298.5,232.4 L298.0,232.3 L297.5,232.2 L297.0,232.2 L296.5,232.1 L296.0,232.0 L295.5,231.9 L295.0,231.9 L294.5,231.8 L294.0,231.7 L293.5,231.6 L293.0,231.6 L292.5,231.5 L292.0,231.4 L291.5,231.3 L291.0,231.3 L290.5,231.2 L290.0,231.1 L289.5,231.0 L289.0,231.0 L288.5,230.9 L288.0,230.8 L287.5,230.7 L287.0,230.6 L286.5,230.6 L286.0,230.5 L285.5,230.4 L285.0,230.3 L284.5,230.3 L284.0,230.2 L283.5,230.1 L283.0,230.0 L282.5,229.9 L282.0,229.9 L281.5,229.8 L281.0,229.7 L280.5,229.6 L280.0,229.5 L279.5,229.5 L279.0,229.4 L278.5,229.3 L278.0,229.2 L277.5,229.1 L277.0,229.1 L276.5,229.0 L276.0,228.9 L275.5,228.8 L275.0,228.7 L274.5,228.6 L274.0,228.6 L273.5,228.5 L273.0,228.4 L272.5,228.3 L272.0,228.2 L271.5,228.1 L271.0,228.1 L270.5,228.0 L270.0,227.9 L269.5,227.8 L269.0,227.7 L268.5,227.6 L268.0,227.5 L267.5,227.5 L267.0,227.4 L266.5,227.3 L266.0,227.2 L265.5,227.1 L265.0,227.0 L264.5,226.9 L264.0,226.9 L263.5,226.8 L263.0,226.7 L262.5,226.6 L262.0,226.5 L261.5,226.4 L261.0,226.3 L260.5,226.2 L260.0,226.2 L259.5,226.1 L259.0,226.0 L258.5,225.9 L258.0,225.8 L257.5,225.7 L257.0,225.6 L256.5,225.5 L256.0,225.4 L255.5,225.4 L255.0,225.3 L254.5,225.2 L254.0,225.1 L253.5,225.0 L253.0,224.9 L252.5,224.8 L252.0,224.7 L251.5,224.6 L251.0,224.5 L250.5,224.4 L250.0,224.4 L249.5,224.3 L249.0,224.2 L248.5,224.1 L248.0,224.0 L247.5,223.9 L247.0,223.8 L246.5,223.7 L246.0,223.6 L245.5,223.5 L245.0,223.4 L244.5,223.3 L244.0,223.3 L243.5,223.2 L243.0,223.1 L242.5,223.0 L242.0,222.9 L241.5,222.8 L241.0,222.7 L240.5,222.6 L240.0,222.5 L239.5,222.4 L239.0,222.3 L238.5,222.2 L238.0,222.1 L237.5,222.0 L237.0,221.9 L236.5,221.9 L236.0,221.8 L235.5,221.7 L235.0,221.6 L234.5,221.5 L234.0,221.4 L233.5,221.3 L233.0,221.2 L232.5,221.1 L232.0,221.0 L231.5,220.9 L231.0,220.8 L230.5,220.7 L230.0,220.6 L229.5,220.5 L229.0,220.4 L228.5,220.3 L228.0,220.2 L227.5,220.2 L227.0,220.1 L226.5,220.0 L226.0,219.9 L225.5,219.8 L225.0,219.7 L224.5,219.6 L224.0,219.5 L223.5,219.4 L223.0,219.3 L222.5,219.2 L222.0,219.1 L221.5,219.0 L221.0,218.9 L220.5,218.8 L220.0,218.7 L219.5,218.6 L219.0,218.5 L218.5,218.4 L218.0,218.3 L217.5,218.2 L217.0,218.1 L216.5,218.0 L216.0,217.9 L215.5,217.8 L215.0,217.7 L214.5,217.7 L214.0,217.6 L213.5,217.5 L213.0,217.4 L212.5,217.3 L212.0,217.2 L211.5,217.1 L211.0,217.0 L210.5,216.9 L210.0,216.8 L209.5,216.7 L209.0,216.6 L208.5,216.5 L208.0,216.4 L207.5,216.3 L207.0,216.2 L206.5,216.1 L206.0,216.0 L205.5,215.9 L205.0,215.8 L204.5,215.7 L204.0,215.6 L203.5,215.5 L203.0,215.4 L202.5,215.3 L202.0,215.2 L201.5,215.1 L201.0,215.0 L200.5,214.9 L200.0,214.8 L199.5,214.8 L199.0,214.7 L198.5,214.6 L198.0,214.5 L197.5,214.4 L197.0,214.3 L196.5,214.2 L196.0,214.1 L195.5,214.0 L195.0,213.9 L194.5,213.8 L194.0,213.7 L193.5,213.6 L193.0,213.5 L192.5,213.4 L192.0,213.3 L191.5,213.2 L191.0,213.1 L190.5,213.0 L190.0,212.9 L189.5,212.8 L189.0,212.7 L188.5,212.6 L188.0,212.5 L187.5,212.4 L187.0,212.3 L186.5,212.3 L186.0,212.2 L185.5,212.1 L185.0,212.0 L184.5,211.9 L184.0,211.8 L183.5,211.7 L183.0,211.6 L182.5,211.5 L182.0,211.4 L181.5,211.3 L181.0,211.2 L180.5,211.1 L180.0,211.0 L179.5,210.9 L179.0,210.8 L178.5,210.7 L178.0,210.6 L177.5,210.5 L177.0,210.4 L176.5,210.4 L176.0,210.3 L175.5,210.2 L175.0,210.1 L174.5,210.0 L174.0,209.9 L173.5,209.8 L173.0,209.7 L172.5,209.6 L172.0,209.5 L171.5,209.4 L171.0,209.3 L170.5,209.2 L170.0,209.1 L169.5,209.0 L169.0,209.0 L168.5,208.9 L168.0,208.8 L167.5,208.7 L167.0,208.6 L166.5,208.5 L166.0,208.4 L165.5,208.3 L165.0,208.2 L164.5,208.1 L164.0,208.0 L163.5,207.9 L163.0,207.9 L162.5,207.8 L162.0,207.7 L161.5,207.6 L161.0,207.5 L160.5,207.4 L160.0,207.3 L159.5,207.2 L159.0,207.1 L158.5,207.0 L158.0,206.9 L157.5,206.9 L157.0,206.8 L156.5,206.7 L156.0,206.6 L155.5,206.5 L155.0,206.4 L154.5,206.3 L154.0,206.2 L153.5,206.1 L153.0,206.1 L152.5,206.0 L152.0,205.9 L151.5,205.8 L151.0,205.7 L150.5,205.6 L150.0,205.5 L149.5,205.4 L149.0,205.4 L148.5,205.3 L148.0,205.2 L147.5,205.1 L147.0,205.0 L146.5,204.9 L146.0,204.8 L145.5,204.7 L145.0,204.7 L144.5,204.6 L144.0,204.5 L143.5,204.4 L143.0,204.3 L142.5,204.2 L142.0,204.1 L141.5,204.1 L141.0,204.0 L140.5,203.9 L140.0,203.8 L139.5,203.7 L139.0,203.6 L138.5,203.6 L138.0,203.5 L137.5,203.4 L137.0,203.3 L136.5,203.2 L136.0,203.1 L135.5,203.1 L135.0,203.0 L134.5,202.9 L134.0,202.8 L133.5,202.7 L133.0,202.7 L132.5,202.6 L132.0,202.5 L131.5,202.4 L131.0,202.3 L130.5,202.3 L130.0,202.2 L129.5,202.1 L129.0,202.0 L128.5,201.9 L128.0,201.9 L127.5,201.8 L127.0,201.7 L126.5,201.6 L126.0,201.5 L125.5,201.5 L125.0,201.4 L124.5,201.3 L124.0,201.2 L123.5,201.2 L123.0,201.1 L122.5,201.0 L122.0,200.9 L121.5,200.9 L121.0,200.8 L120.5,200.7 L120.0,200.6 L119.5,200.6 L119.0,200.5 L118.5,200.4 L118.0,200.3 L117.5,200.3 L117.0,200.2 L116.5,200.1 L116.0,200.1 L115.5,200.0 L115.0,199.9 L114.5,199.9 L114.0,199.8 L113.5,199.7 L113.0,199.7 L112.5,199.6 L112.0,199.6 L111.5,199.5 L111.0,199.5 L110.5,199.4 L110.0,199.4 L109.5,199.3 L109.0,199.3 L108.5,199.3 L108.0,199.3 L107.5,199.2 L107.0,199.2 L106.5,199.2 L106.0,199.2 L105.5,199.2 L105.0,199.2 L104.5,199.2 L104.0,199.2 L103.5,199.2 L103.0,199.2 L102.5,199.2 L102.0,199.3 L101.5,199.3 L101.0,199.3 L100.5,199.4 L100.0,199.4 L99.5,199.5 L99.0,199.6 L98.5,199.6 L98.0,199.7 L97.5,199.8 L97.0,199.9 L96.5,200.0 L96.0,200.1 L95.5,200.2 L95.0,200.3 L94.5,200.5 L94.0,200.6 L93.5,200.8 L93.0,200.9 L92.5,201.1 L92.0,201.2 L91.5,201.4 L91.0,201.6 L90.5,201.8 L90.0,202.0 L89.5,202.2 L89.0,202.4 L88.5,202.7 L88.0,202.9 L87.5,203.2 L87.0,203.4 L86.5,203.7 L86.0,204.0 L85.5,204.3 L85.0,204.6 L84.5,204.9 L84.0,205.3 L83.5,205.6 L83.0,205.9 L82.5,206.3 L82.0,206.7 L81.5,207.1 L81.0,207.5 L80.5,207.9 L80.0,208.3 L79.5,208.7 L79.0,209.2 L78.5,209.6 L78.0,210.1 L77.5,210.6 L77.0,211.1 L76.5,211.6 L76.0,212.1 L75.5,212.6 L75.0,213.2 L74.5,213.8 L74.0,214.3 L73.5,214.9 L73.0,215.5 L72.5,216.1 L72.0,216.8 L71.5,217.4 L71.0,218.1 L70.5,218.8 L70.0,219.5 L69.5,220.3 L69.0,221.0 L68.5,221.8 L68.0,222.6 L67.5,223.5 L67.0,224.3 L66.5,225.2 L66.0,226.1 L65.5,227.1 L65.0,228.0 L64.5,229.0 L64.0,230.0 L63.5,231.0 L63.0,232.0 L62.5,233.0 L62.0,234.0 L61.5,234.9 L61.0,235.9 L60.5,236.9 L60.0,237.8 L59.5,238.7 L59.0,239.5 L58.5,240.4 L58.0,241.2 L57.5,241.9 L57.0,242.6 L56.5,243.2 L56.0,243.8 L55.5,244.4 L55.0,244.8 L54.5,245.3 L54.0,245.6 L53.5,246.0 L53.0,246.3 L52.5,246.5 L52.0,246.7 L51.5,246.8 L51.0,246.9 L50.5,247.0 L50.0,247.0 L49.5,246.9 L49.0,246.9 L48.5,246.8 L48.0,246.7 L47.5,246.6 L47.0,246.5 L46.5,246.3 L46.0,246.2 L45.5,246.0 L45.0,245.8 L44.5,245.6 L44.0,245.4 L43.5,245.2 L43.0,245.0 L42.5,244.9 L42.0,244.7 L41.5,244.6 L41.0,244.5 L40.5,244.5 L40.0,244.5 L39.5,244.5 L39.0,244.6 Z" fill="#0000ff" fill-opacity="0.21" stroke="#0000ff" stroke-opacity="0.25" stroke-width="1.1"/>
<path d="M39.0,243.8 L39.5,244.1 L40.0,244.4 L40.5,244.7 L41.0,245.0 L41.5,245.3 L42.0,245.6 L42.5,245.9 L43.0,246.1 L43.5,246.4 L44.0,246.7 L44.5,246.9 L45.0,247.2 L45.5,247.5 L46.0,247.8 L46.5,248.1 L47.0,248.4 L47.5,248.7 L48.0,249.1 L48.5,249.4 L49.0,249.8 L49.5,250.2 L50.0,250.6 L50.5,251.1 L51.0,251.5 L51.5,251.9 L52.0,252.3 L52.5,252.6 L53.0,252.9 L53.5,253.0 L54.0,253.0 L54.5,252.9 L55.0,252.7 L55.5,252.3 L56.0,251.8 L56.5,251.1 L57.0,250.4 L57.5,249.5 L58.0,248.6 L58.5,247.5 L59.0,246.4 L59.5,245.2 L60.0,243.9 L60.5,242.5 L61.0,241.1 L61.5,239.6 L62.0,238.1 L62.5,236.6 L63.0,235.0 L63.5,233.3 L64.0,231.6 L64.5,229.9 L65.0,228.2 L65.5,226.4 L66.0,224.6 L66.5,222.8 L67.0,221.0 L67.5,219.2 L68.0,217.3 L68.5,215.5 L69.0,213.6 L69.5,211.8 L70.0,210.0 L70.5,208.2 L71.0,206.4 L71.5,204.6 L72.0,202.8 L72.5,201.0 L73.0,199.3 L73.5,197.5 L74.0,195.8 L74.5,194.1 L75.0,192.5 L75.5,190.8 L76.0,189.2 L76.5,187.6 L77.0,186.1 L77.5,184.5 L78.0,183.0 L78.5,181.5 L79.0,180.1 L79.5,178.6 L80.0,177.2 L80.5,175.8 L81.0,174.5 L81.5,173.1 L82.0,171.8 L82.5,170.5 L83.0,169.2 L83.5,167.9 L84.0,166.6 L84.5,165.4 L85.0,164.1 L85.5,162.9 L86.0,161.7 L86.5,160.6 L87.0,159.4 L87.5,158.3 L88.0,157.1 L88.5,156.0 L89.0,154.9 L89.5,153.8 L90.0,152.8 L90.5,151.7 L91.0,150.7 L91.5,149.6 L92.0,148.6 L92.5,147.6 L93.0,146.6 L93.5,145.7 L94.0,144.7 L94.5,143.8 L95.0,142.9 L95.5,141.9 L96.0,141.0 L96.5,140.2 L97.0,139.3 L97.5,138.4 L98.0,137.6 L98.5,136.7 L99.0,135.9 L99.5,135.1 L100.0,134.3 L100.5,133.5 L101.0,132.8 L101.5,132.0 L102.0,131.3 L102.5,130.5 L103.0,129.8 L103.5,129.1 L104.0,128.4 L104.5,127.7 L105.0,127.1 L105.5,126.4 L106.0,125.8 L106.5,125.1 L107.0,124.5 L107.5,123.9 L108.0,123.3 L108.5,122.7 L109.0,122.1 L109.5,121.5 L110.0,121.0 L110.5,120.4 L111.0,119.9 L111.5,119.4 L112.0,118.8 L112.5,118.3 L113.0,117.8 L113.5,117.4 L114.0,116.9 L114.5,116.4 L115.0,116.0 L115.5,115.5 L116.0,115.1 L116.5,114.7 L117.0,114.3 L117.5,113.8 L118.0,113.5 L118.5,113.1 L119.0,112.7 L119.5,112.3 L120.0,112.0 L120.5,111.6 L121.0,111.3 L121.5,110.9 L122.0,110.6 L122.5,110.3 L123.0,110.0 L123.5,109.7 L124.0,109.4 L124.5,109.2 L125.0,108.9 L125.5,108.6 L126.0,108.4 L126.5,108.1 L127.0,107.9 L127.5,107.7 L128.0,107.4 L128.5,107.2 L129.0,107.0 L129.5,106.8 L130.0,106.6 L130.5,106.5 L131.0,106.3 L131.5,106.1 L132.0,106.0 L132.5,105.8 L133.0,105.7 L133.5,105.5 L134.0,105.4 L134.5,105.3 L135.0,105.2 L135.5,105.1 L136.0,105.0 L136.5,104.9 L137.0,104.8 L137.5,104.7 L138.0,104.6 L138.5,104.6 L139.0,104.5 L139.5,104.4 L140.0,104.4 L140.5,104.3 L141.0,104.3 L141.5,104.3 L142.0,104.2 L142.5,104.2 L143.0,104.2 L143.5,104.2 L144.0,104.2 L144.5,104.2 L145.0,104.2 L145.5,104.2 L146.0,104.2 L146.5,104.2 L147.0,104.3 L147.5,104.3 L148.0,104.3 L148.5,104.4 L149.0,104.4 L149.5,104.5 L150.0,104.6 L150.5,104.6 L151.0,104.7 L151.5,104.8 L152.0,104.8 L152.5,104.9 L153.0,105.0 L153.5,105.1 L154.0,105.2 L154.5,105.3 L155.0,105.4 L155.5,105.5 L156.0,105.6 L156.5,105.8 L157.0,105.9 L157.5,106.0 L158.0,106.1 L158.5,106.3 L159.0,106.4 L159.5,106.6 L160.0,106.7 L160.5,106.9 L161.0,107.0 L161.5,107.2 L162.0,107.3 L162.5,107.5 L163.0,107.7 L163.5,107.9 L164.0,108.0 L164.5,108.2 L165.0,108.4 L165.5,108.6 L166.0,108.8 L166.5,109.0 L167.0,109.2 L167.5,109.4 L168.0,109.6 L168.5,109.8 L169.0,110.0 L169.5,110.2 L170.0,110.4 L170.5,110.7 L171.0,110.9 L171.5,111.1 L172.0,111.3 L172.5,111.6 L173.0,111.8 L173.5,112.1 L174.0,112.3 L174.5,112.5 L175.0,112.8 L175.5,113.0 L176.0,113.3 L176.5,113.5 L177.0,113.8 L177.5,114.0 L178.0,114.3 L178.5,114.6 L179.0,114.8 L179.5,115.1 L180.0,115.4 L180.5,115.6 L181.0,115.9 L181.5,116.2 L182.0,116.5 L182.5,116.7 L183.0,117.0 L183.5,117.3 L184.0,117.6 L184.5,117.9 L185.0,118.2 L185.5,118.4 L186.0,118.7 L186.5,119.0 L187.0,119.3 L187.5,119.6 L188.0,119.9 L188.5,120.2 L189.0,120.5 L189.5,120.8 L190.0,121.1 L190.5,121.4 L191.0,121.7 L191.5,122.0 L192.0,122.3 L192.5,122.6 L193.0,122.9 L193.5,123.2 L194.0,123.5 L194.5,123.8 L195.0,124.1 L195.5,124.4 L196.0,124.7 L196.5,125.1 L197.0,125.4 L197.5,125.7 L198.0,126.0 L198.5,126.3 L199.0,126.6 L199.5,126.9 L200.0,127.2 L200.5,127.5 L201.0,127.8 L201.5,128.2 L202.0,128.5 L202.5,128.8 L203.0,129.1 L203.5,129.4 L204.0,129.7 L204.5,130.0 L205.0,130.3 L205.5,130.7 L206.0,131.0 L206.5,131.3 L207.0,131.6 L207.5,131.9 L208.0,132.2 L208.5,132.6 L209.0,132.9 L209.5,133.2 L210.0,133.5 L210.5,133.8 L211.0,134.1 L211.5,134.5 L212.0,134.8 L212.5,135.1 L213.0,135.4 L213.5,135.7 L214.0,136.0 L214.5,136.4 L215.0,136.7 L215.5,137.0 L216.0,137.3 L216.5,137.6 L217.0,138.0 L217.5,138.3 L218.0,138.6 L218.5,138.9 L219.0,139.2 L219.5,139.6 L220.0,139.9 L220.5,140.2 L221.0,140.5 L221.5,140.8 L222.0,141.2 L222.5,141.5 L223.0,141.8 L223.5,142.1 L224.0,142.5 L224.5,142.8 L225.0,143.1 L225.5,143.4 L226.0,143.7 L226.5,144.1 L227.0,144.4 L227.5,144.7 L228.0,145.0 L228.5,145.3 L229.0,145.7 L229.5,146.0 L230.0,146.3 L230.5,146.6 L231.0,147.0 L231.5,147.3 L232.0,147.6 L232.5,147.9 L233.0,148.2 L233.5,148.6 L234.0,148.9 L234.5,149.2 L235.0,149.5 L235.5,149.8 L236.0,150.2 L236.5,150.5 L237.0,150.8 L237.5,151.1 L238.0,151.5 L238.5,151.8 L239.0,152.1 L239.5,152.4 L240.0,152.7 L240.5,153.1 L241.0,153.4 L241.5,153.7 L242.0,154.0 L242.5,154.3 L243.0,154.7 L243.5,155.0 L244.0,155.3 L244.5,155.6 L245.0,155.9 L245.5,156.2 L246.0,156.6 L246.5,156.9 L247.0,157.2 L247.5,157.5 L248.0,157.8 L248.5,158.1 L249.0,158.5 L249.5,158.8 L250.0,159.1 L250.5,159.4 L251.0,159.7 L251.5,160.0 L252.0,160.4 L252.5,160.7 L253.0,161.0 L253.5,161.3 L254.0,161.6 L254.5,161.9 L255.0,162.2 L255.5,162.6 L256.0,162.9 L256.5,163.2 L257.0,163.5 L257.5,163.8 L258.0,164.1 L258.5,164.4 L259.0,164.7 L259.5,165.1 L260.0,165.4 L260.5,165.7 L261.0,166.0 L261.5,166.3 L262.0,166.6 L262.5,166.9 L263.0,167.2 L263.5,167.5 L264.0,167.8 L264.5,168.1 L265.0,168.4 L265.5,168.7 L266.0,169.1 L266.5,169.4 L267.0,169.7 L267.5,170.0 L268.0,170.3 L268.5,170.6 L269.0,170.9 L269.5,171.2 L270.0,171.5 L270.5,171.8 L271.0,172.1 L271.5,172.4 L272.0,172.7 L272.5,173.0 L273.0,173.3 L273.5,173.6 L274.0,173.9 L274.5,174.2 L275.0,174.5 L275.5,174.8 L276.0,175.1 L276.5,175.4 L277.0,175.7 L277.5,176.0 L278.0,176.3 L278.5,176.6 L279.0,176.9 L279.5,177.2 L280.0,177.5 L280.5,177.8 L281.0,178.1 L281.5,178.4 L282.0,178.7 L282.5,179.0 L283.0,179.3 L283.5,179.6 L284.0,179.9 L284.5,180.2 L285.0,180.5 L285.5,180.8 L286.0,181.1 L286.5,181.4 L287.0,181.7 L287.5,181.9 L288.0,182.2 L288.5,182.5 L289.0,182.8 L289.5,183.1 L290.0,183.4 L290.5,183.7 L291.0,184.0 L291.5,184.3 L292.0,184.6 L292.5,184.9 L293.0,185.2 L293.5,185.5 L294.0,185.7 L294.5,186.0 L295.0,186.3 L295.5,186.6 L296.0,186.9 L296.5,187.2 L297.0,187.5 L297.5,187.8 L298.0,188.1 L298.5,188.4 L299.0,188.6 L299.5,188.9 L300.0,189.2 L300.5,189.5 L301.0,189.8 L301.5,190.1 L302.0,190.4 L302.5,190.7 L303.0,191.0 L303.5,191.2 L304.0,191.5 L304.5,191.8 L305.0,192.1 L305.5,192.4 L306.0,192.7 L306.5,193.0 L307.0,193.2 L307.5,193.5 L308.0,193.8 L308.5,194.1 L309.0,194.4 L309.5,194.7 L310.0,195.0 L310.5,195.2 L311.0,195.5 L311.5,195.8 L312.0,196.1 L312.5,196.4 L313.0,196.7 L313.5,196.9 L314.0,197.2 L314.5,197.5 L315.0,197.8 L315.5,198.1 L316.0,198.4 L316.5,198.6 L317.0,198.9 L317.5,199.2 L318.0,199.5 L318.5,199.8 L319.0,200.0 L319.5,200.3 L320.0,200.6 L320.5,200.9 L321.0,201.2 L321.5,201.4 L322.0,201.7 L322.5,202.0 L323.0,202.3 L323.5,202.6 L324.0,202.8 L324.5,203.1 L325.0,203.4 L325.5,203.7 L326.0,204.0 L326.5,204.2 L327.0,204.5 L327.5,204.8 L328.0,205.1 L328.5,205.4 L329.0,205.6 L329.5,205.9 L330.0,206.2 L330.5,206.5 L331.0,206.8 L331.5,207.0 L332.0,207.3 L332.5,207.6 L333.0,207.9 L333.5,208.1 L334.0,208.4 L334.5,208.7 L335.0,209.0 L335.5,209.3 L336.0,209.5 L336.5,209.8 L337.0,210.1 L337.5,210.4 L338.0,210.6 L338.5,210.9 L339.0,211.2 L339.5,211.5 L340.0,211.7 L340.5,212.0 L341.0,212.3 L341.5,212.6 L342.0,212.8 L342.5,213.1 L343.0,213.4 L343.5,213.7 L344.0,214.0 L344.5,214.2 L345.0,214.5 L345.5,214.8 L346.0,215.1 L346.5,215.3 L347.0,215.6 L347.5,215.9 L348.0,216.2 L348.5,216.4 L349.0,216.7 L349.5,217.0 L350.0,217.3 L350.5,217.5 L351.0,217.8 L351.5,218.1 L352.0,218.4 L352.5,218.6 L353.0,218.9 L353.5,219.2 L354.0,219.4 L354.5,219.7 L355.0,220.0 L355.5,220.3 L356.0,220.5 L356.5,220.8 L357.0,221.1 L357.5,221.4 L358.0,221.6 L358.5,221.9 L359.0,222.2 L359.5,222.5 L360.0,222.7 L360.5,223.0 L361.0,223.3 L361.5,223.6 L362.0,223.8 L362.5,224.1 L363.0,224.4 L363.5,224.7 L364.0,224.9 L364.5,225.2 L365.0,225.5 L365.5,225.7 L366.0,226.0 L366.5,226.3 L367.0,226.6 L367.5,226.8 L367.5,235.0 L367.0,234.8 L366.5,234.5 L366.0,234.2 L365.5,233.9 L365.0,233.7 L364.5,233.4 L364.0,233.1 L363.5,232.9 L363.0,232.6 L362.5,232.3 L362.0,232.0 L361.5,231.8 L361.0,231.5 L360.5,231.2 L360.0,230.9 L359.5,230.7 L359.0,230.4 L358.5,230.1 L358.0,229.8 L357.5,229.6 L357.0,229.3 L356.5,229.0 L356.0,228.7 L355.5,228.5 L355.0,228.2 L354.5,227.9 L354.0,227.6 L353.5,227.4 L353.0,227.1 L352.5,226.8 L352.0,226.6 L351.5,226.3 L351.0,226.0 L350.5,225.7 L350.0,225.5 L349.5,225.2 L349.0,224.9 L348.5,224.6 L348.0,224.4 L347.5,224.1 L347.0,223.8 L346.5,223.5 L346.0,223.3 L345.5,223.0 L345.0,222.7 L344.5,222.4 L344.0,222.2 L343.5,221.9 L343.0,221.6 L342.5,221.3 L342.0,221.0 L341.5,220.8 L341.0,220.5 L340.5,220.2 L340.0,219.9 L339.5,219.7 L339.0,219.4 L338.5,219.1 L338.0,218.8 L337.5,218.6 L337.0,218.3 L336.5,218.0 L336.0,217.7 L335.5,217.5 L335.0,217.2 L334.5,216.9 L334.0,216.6 L333.5,216.3 L333.0,216.1 L332.5,215.8 L332.0,215.5 L331.5,215.2 L331.0,215.0 L330.5,214.7 L330.0,214.4 L329.5,214.1 L329.0,213.8 L328.5,213.6 L328.0,213.3 L327.5,213.0 L327.0,212.7 L326.5,212.4 L326.0,212.2 L325.5,211.9 L325.0,211.6 L324.5,211.3 L324.0,211.0 L323.5,210.8 L323.0,210.5 L322.5,210.2 L322.0,209.9 L321.5,209.6 L321.0,209.4 L320.5,209.1 L320.0,208.8 L319.5,208.5 L319.0,208.2 L318.5,208.0 L318.0,207.7 L317.5,207.4 L317.0,207.1 L316.5,206.8 L316.0,206.6 L315.5,206.3 L315.0,206.0 L314.5,205.7 L314.0,205.4 L313.5,205.1 L313.0,204.9 L312.5,204.6 L312.0,204.3 L311.5,204.0 L311.0,203.7 L310.5,203.4 L310.0,203.2 L309.5,202.9 L309.0,202.6 L308.5,202.3 L308.0,202.0 L307.5,201.7 L307.0,201.4 L306.5,201.2 L306.0,200.9 L305.5,200.6 L305.0,200.3 L304.5,200.0 L304.0,199.7 L303.5,199.4 L303.0,199.2 L302.5,198.9 L302.0,198.6 L301.5,198.3 L301.0,198.0 L300.5,197.7 L300.0,197.4 L299.5,197.1 L299.0,196.8 L298.5,196.6 L298.0,196.3 L297.5,196.0 L297.0,195.7 L296.5,195.4 L296.0,195.1 L295.5,194.8 L295.0,194.5 L294.5,194.2 L294.0,193.9 L293.5,193.7 L293.0,193.4 L292.5,193.1 L292.0,192.8 L291.5,192.5 L291.0,192.2 L290.5,191.9 L290.0,191.6 L289.5,191.3 L289.0,191.0 L288.5,190.7 L288.0,190.4 L287.5,190.1 L287.0,189.9 L286.5,189.6 L286.0,189.3 L285.5,189.0 L285.0,188.7 L284.5,188.4 L284.0,188.1 L283.5,187.8 L283.0,187.5 L282.5,187.2 L282.0,186.9 L281.5,186.6 L281.0,186.3 L280.5,186.0 L280.0,185.7 L279.5,185.4 L279.0,185.1 L278.5,184.8 L278.0,184.5 L277.5,184.2 L277.0,183.9 L276.5,183.6 L276.0,183.3 L275.5,183.0 L275.0,182.7 L274.5,182.4 L274.0,182.1 L273.5,181.8 L273.0,181.5 L272.5,181.2 L272.0,180.9 L271.5,180.6 L271.0,180.3 L270.5,180.0 L270.0,179.7 L269.5,179.4 L269.0,179.1 L268.5,178.8 L268.0,178.5 L267.5,178.2 L267.0,177.9 L266.5,177.6 L266.0,177.3 L265.5,176.9 L265.0,176.6 L264.5,176.3 L264.0,176.0 L263.5,175.7 L263.0,175.4 L262.5,175.1 L262.0,174.8 L261.5,174.5 L261.0,174.2 L260.5,173.9 L260.0,173.6 L259.5,173.3 L259.0,172.9 L258.5,172.6 L258.0,172.3 L257.5,172.0 L257.0,171.7 L256.5,171.4 L256.0,171.1 L255.5,170.8 L255.0,170.4 L254.5,170.1 L254.0,169.8 L253.5,169.5 L253.0,169.2 L252.5,168.9 L252.0,168.6 L251.5,168.2 L251.0,167.9 L250.5,167.6 L250.0,167.3 L249.5,167.0 L249.0,166.7 L248.5,166.3 L248.0,166.0 L247.5,165.7 L247.0,165.4 L246.5,165.1 L246.0,164.8 L245.5,164.4 L245.0,164.1 L244.5,163.8 L244.0,163.5 L243.5,163.2 L243.0,162.9 L242.5,162.5 L242.0,162.2 L241.5,161.9 L241.0,161.6 L240.5,161.3 L240.0,160.9 L239.5,160.6 L239.0,160.3 L238.5,160.0 L238.0,159.7 L237.5,159.3 L237.0,159.0 L236.5,158.7 L236.0,158.4 L235.5,158.0 L235.0,157.7 L234.5,157.4 L234.0,157.1 L233.5,156.8 L233.0,156.4 L232.5,156.1 L232.0,155.8 L231.5,155.5 L231.0,155.2 L230.5,154.8 L230.0,154.5 L229.5,154.2 L229.0,153.9 L228.5,153.5 L228.0,153.2 L227.5,152.9 L227.0,152.6 L226.5,152.3 L226.0,151.9 L225.5,151.6 L225.0,151.3 L224.5,151.0 L224.0,150.7 L223.5,150.3 L223.0,150.0 L222.5,149.7 L222.0,149.4 L221.5,149.0 L221.0,148.7 L220.5,148.4 L220.0,148.1 L219.5,147.8 L219.0,147.4 L218.5,147.1 L218.0,146.8 L217.5,146.5 L217.0,146.2 L216.5,145.8 L216.0,145.5 L215.5,145.2 L215.0,144.9 L214.5,144.6 L214.0,144.2 L213.5,143.9 L213.0,143.6 L212.5,143.3 L212.0,143.0 L211.5,142.7 L211.0,142.3 L210.5,142.0 L210.0,141.7 L209.5,141.4 L209.0,141.1 L208.5,140.8 L208.0,140.4 L207.5,140.1 L207.0,139.8 L206.5,139.5 L206.0,139.2 L205.5,138.9 L205.0,138.5 L204.5,138.2 L204.0,137.9 L203.5,137.6 L203.0,137.3 L202.5,137.0 L202.0,136.7 L201.5,136.4 L201.0,136.0 L200.5,135.7 L200.0,135.4 L199.5,135.1 L199.0,134.8 L198.5,134.5 L198.0,134.2 L197.5,133.9 L197.0,133.6 L196.5,133.3 L196.0,132.9 L195.5,132.6 L195.0,132.3 L194.5,132.0 L194.0,131.7 L193.5,131.4 L193.0,131.1 L192.5,130.8 L192.0,130.5 L191.5,130.2 L191.0,129.9 L190.5,129.6 L190.0,129.3 L189.5,129.0 L189.0,128.7 L188.5,128.4 L188.0,128.1 L187.5,127.8 L187.0,127.5 L186.5,127.2 L186.0,126.9 L185.5,126.6 L185.0,126.4 L184.5,126.1 L184.0,125.8 L183.5,125.5 L183.0,125.2 L182.5,124.9 L182.0,124.7 L181.5,124.4 L181.0,124.1 L180.5,123.8 L180.0,123.6 L179.5,123.3 L179.0,123.0 L178.5,122.8 L178.0,122.5 L177.5,122.2 L177.0,122.0 L176.5,121.7 L176.0,121.5 L175.5,121.2 L175.0,121.0 L174.5,120.7 L174.0,120.5 L173.5,120.3 L173.0,120.0 L172.5,119.8 L172.0,119.5 L171.5,119.3 L171.0,119.1 L170.5,118.9 L170.0,118.6 L169.5,118.4 L169.0,118.2 L168.5,118.0 L168.0,117.8 L167.5,117.6 L167.0,117.4 L166.5,117.2 L166.0,117.0 L165.5,116.8 L165.0,116.6 L164.5,116.4 L164.0,116.2 L163.5,116.1 L163.0,115.9 L162.5,115.7 L162.0,115.5 L161.5,115.4 L161.0,115.2 L160.5,115.1 L160.0,114.9 L159.5,114.8 L159.0,114.6 L158.5,114.5 L158.0,114.3 L157.5,114.2 L157.0,114.1 L156.5,114.0 L156.0,113.8 L155.5,113.7 L155.0,113.6 L154.5,113.5 L154.0,113.4 L153.5,113.3 L153.0,113.2 L152.5,113.1 L152.0,113.0 L151.5,113.0 L151.0,112.9 L150.5,112.8 L150.0,112.8 L149.5,112.7 L149.0,112.6 L148.5,112.6 L148.0,112.5 L147.5,112.5 L147.0,112.5 L146.5,112.4 L146.0,112.4 L145.5,112.4 L145.0,112.4 L144.5,112.4 L144.0,112.4 L143.5,112.4 L143.0,112.4 L142.5,112.4 L142.0,112.4 L141.5,112.5 L141.0,112.5 L140.5,112.5 L140.0,112.6 L139.5,112.6 L139.0,112.7 L138.5,112.8 L138.0,112.8 L137.5,112.9 L137.0,113.0 L136.5,113.1 L136.0,113.2 L135.5,113.3 L135.0,113.4 L134.5,113.5 L134.0,113.6 L133.5,113.7 L133.0,113.9 L132.5,114.0 L132.0,114.2 L131.5,114.3 L131.0,114.5 L130.5,114.7 L130.0,114.8 L129.5,115.0 L129.0,115.2 L128.5,115.4 L128.0,115.6 L127.5,115.9 L127.0,116.1 L126.5,116.3 L126.0,116.6 L125.5,116.8 L125.0,117.1 L124.5,117.4 L124.0,117.6 L123.5,117.9 L123.0,118.2 L122.5,118.5 L122.0,118.8 L121.5,119.1 L121.0,119.5 L120.5,119.8 L120.0,120.2 L119.5,120.5 L119.0,120.9 L118.5,121.3 L118.0,121.7 L117.5,122.0 L117.0,122.5 L116.5,122.9 L116.0,123.3 L115.5,123.7 L115.0,124.2 L114.5,124.6 L114.0,125.1 L113.5,125.6 L113.0,126.0 L112.5,126.5 L112.0,127.0 L111.5,127.6 L111.0,128.1 L110.5,128.6 L110.0,129.2 L109.5,129.7 L109.0,130.3 L108.5,130.9 L108.0,131.5 L107.5,132.1 L107.0,132.7 L106.5,133.3 L106.0,134.0 L105.5,134.6 L105.0,135.3 L104.5,135.9 L104.0,136.6 L103.5,137.3 L103.0,138.0 L102.5,138.7 L102.0,139.5 L101.5,140.2 L101.0,141.0 L100.5,141.7 L100.0,142.5 L99.5,143.3 L99.0,144.1 L98.5,144.9 L98.0,145.8 L97.5,146.6 L97.0,147.5 L96.5,148.4 L96.0,149.2 L95.5,150.1 L95.0,151.1 L94.5,152.0 L94.0,152.9 L93.5,153.9 L93.0,154.8 L92.5,155.8 L92.0,156.8 L91.5,157.8 L91.0,158.9 L90.5,159.9 L90.0,161.0 L89.5,162.0 L89.0,163.1 L88.5,164.2 L88.0,165.3 L87.5,166.5 L87.0,167.6 L86.5,168.8 L86.0,169.9 L85.5,171.1 L85.0,172.3 L84.5,173.6 L84.0,174.8 L83.5,176.1 L83.0,177.4 L82.5,178.7 L82.0,180.0 L81.5,181.3 L81.0,182.7 L80.5,184.0 L80.0,185.4 L79.5,186.8 L79.0,188.2 L78.5,189.7 L78.0,191.1 L77.5,192.6 L77.0,194.0 L76.5,195.5 L76.0,197.0 L75.5,198.5 L75.0,200.1 L74.5,201.6 L74.0,203.2 L73.5,204.7 L73.0,206.3 L72.5,207.9 L72.0,209.5 L71.5,211.1 L71.0,212.8 L70.5,214.4 L70.0,216.0 L69.5,217.7 L69.0,219.3 L68.5,221.0 L68.0,222.6 L67.5,224.2 L67.0,225.9 L66.5,227.5 L66.0,229.1 L65.5,230.7 L65.0,232.3 L64.5,233.8 L64.0,235.3 L63.5,236.8 L63.0,238.3 L62.5,239.7 L62.0,241.1 L61.5,242.4 L61.0,243.7 L60.5,245.0 L60.0,246.1 L59.5,247.3 L59.0,248.3 L58.5,249.3 L58.0,250.2 L57.5,251.1 L57.0,251.8 L56.5,252.4 L56.0,253.0 L55.5,253.4 L55.0,253.7 L54.5,253.9 L54.0,254.0 L53.5,253.9 L53.0,253.7 L52.5,253.4 L52.0,253.1 L51.5,252.7 L51.0,252.3 L50.5,251.9 L50.0,251.4 L49.5,251.0 L49.0,250.6 L48.5,250.2 L48.0,249.9 L47.5,249.5 L47.0,249.2 L46.5,248.9 L46.0,248.6 L45.5,248.3 L45.0,248.0 L44.5,247.7 L44.0,247.5 L43.5,247.2 L43.0,246.9 L42.5,246.7 L42.0,246.4 L41.5,246.1 L41.0,245.8 L40.5,245.5 L40.0,245.2 L39.5,244.9 L39.0,244.6 Z" fill="#ff0000" fill-opacity="0.17" stroke="#ff0000" stroke-opacity="0.25" stroke-width="1.1"/>
<path d="M39.0,243.8 L39.5,244.2 L40.0,244.5 L40.5,244.9 L41.0,245.2 L41.5,245.5 L42.0,245.7 L42.5,246.0 L43.0,246.2 L43.5,246.4 L44.0,246.7 L44.5,246.9 L45.0,247.1 L45.5,247.4 L46.0,247.6 L46.5,247.9 L47.0,248.1 L47.5,248.4 L48.0,248.8 L48.5,249.1 L49.0,249.5 L49.5,249.9 L50.0,250.4 L50.5,250.9 L51.0,251.4 L51.5,251.8 L52.0,252.2 L52.5,252.4 L53.0,252.4 L53.5,252.2 L54.0,251.8 L54.5,251.1 L55.0,250.1 L55.5,248.9 L56.0,247.5 L56.5,246.2 L57.0,244.9 L57.5,243.8 L58.0,242.7 L58.5,241.4 L59.0,239.7 L59.5,237.6 L60.0,234.9 L60.5,231.9 L61.0,228.7 L61.5,225.7 L62.0,222.7 L62.5,219.7 L63.0,216.7 L63.5,213.7 L64.0,210.8 L64.5,208.0 L65.0,205.3 L65.5,202.8 L66.0,200.3 L66.5,197.8 L67.0,195.3 L67.5,192.7 L68.0,189.9 L68.5,187.0 L69.0,183.7 L69.5,180.3 L70.0,176.7 L70.5,173.0 L71.0,169.4 L71.5,165.9 L72.0,162.6 L72.5,159.5 L73.0,156.6 L73.5,153.9 L74.0,151.3 L74.5,148.8 L75.0,146.5 L75.5,144.3 L76.0,142.2 L76.5,140.2 L77.0,138.3 L77.5,136.4 L78.0,134.6 L78.5,132.8 L79.0,131.0 L79.5,129.3 L80.0,127.6 L80.5,125.8 L81.0,124.0 L81.5,122.2 L82.0,120.3 L82.5,118.4 L83.0,116.5 L83.5,114.6 L84.0,112.7 L84.5,110.8 L85.0,108.9 L85.5,107.0 L86.0,105.2 L86.5,103.4 L87.0,101.7 L87.5,100.1 L88.0,98.4 L88.5,96.9 L89.0,95.3 L89.5,93.8 L90.0,92.4 L90.5,91.0 L91.0,89.6 L91.5,88.3 L92.0,87.0 L92.5,85.8 L93.0,84.5 L93.5,83.4 L94.0,82.2 L94.5,81.1 L95.0,80.0 L95.5,78.9 L96.0,77.9 L96.5,76.9 L97.0,75.9 L97.5,75.0 L98.0,74.0 L98.5,73.1 L99.0,72.2 L99.5,71.4 L100.0,70.5 L100.5,69.7 L101.0,68.9 L101.5,68.1 L102.0,67.4 L102.5,66.6 L103.0,65.9 L103.5,65.2 L104.0,64.6 L104.5,63.9 L105.0,63.3 L105.5,62.6 L106.0,62.0 L106.5,61.5 L107.0,60.9 L107.5,60.4 L108.0,59.8 L108.5,59.3 L109.0,58.8 L109.5,58.4 L110.0,57.9 L110.5,57.5 L111.0,57.0 L111.5,56.6 L112.0,56.3 L112.5,55.9 L113.0,55.5 L113.5,55.2 L114.0,54.9 L114.5,54.6 L115.0,54.3 L115.5,54.0 L116.0,53.7 L116.5,53.5 L117.0,53.2 L117.5,53.0 L118.0,52.8 L118.5,52.6 L119.0,52.4 L119.5,52.3 L120.0,52.1 L120.5,52.0 L121.0,51.8 L121.5,51.7 L122.0,51.6 L122.5,51.5 L123.0,51.5 L123.5,51.4 L124.0,51.3 L124.5,51.3 L125.0,51.3 L125.5,51.2 L126.0,51.2 L126.5,51.2 L127.0,51.2 L127.5,51.3 L128.0,51.3 L128.5,51.3 L129.0,51.4 L129.5,51.4 L130.0,51.5 L130.5,51.6 L131.0,51.7 L131.5,51.8 L132.0,51.9 L132.5,52.0 L133.0,52.1 L133.5,52.3 L134.0,52.4 L134.5,52.6 L135.0,52.7 L135.5,52.9 L136.0,53.1 L136.5,53.3 L137.0,53.4 L137.5,53.6 L138.0,53.9 L138.5,54.1 L139.0,54.3 L139.5,54.5 L140.0,54.7 L140.5,55.0 L141.0,55.2 L141.5,55.5 L142.0,55.7 L142.5,56.0 L143.0,56.3 L143.5,56.5 L144.0,56.8 L144.5,57.1 L145.0,57.4 L145.5,57.7 L146.0,58.0 L146.5,58.3 L147.0,58.6 L147.5,58.9 L148.0,59.2 L148.5,59.6 L149.0,59.9 L149.5,60.2 L150.0,60.5 L150.5,60.9 L151.0,61.2 L151.5,61.5 L152.0,61.9 L152.5,62.2 L153.0,62.6 L153.5,62.9 L154.0,63.3 L154.5,63.6 L155.0,64.0 L155.5,64.4 L156.0,64.7 L156.5,65.1 L157.0,65.4 L157.5,65.8 L158.0,66.2 L158.5,66.5 L159.0,66.9 L159.5,67.3 L160.0,67.6 L160.5,68.0 L161.0,68.4 L161.5,68.7 L162.0,69.1 L162.5,69.5 L163.0,69.9 L163.5,70.2 L164.0,70.6 L164.5,71.0 L165.0,71.4 L165.5,71.8 L166.0,72.1 L166.5,72.5 L167.0,72.9 L167.5,73.3 L168.0,73.7 L168.5,74.1 L169.0,74.5 L169.5,74.9 L170.0,75.2 L170.5,75.6 L171.0,76.0 L171.5,76.4 L172.0,76.8 L172.5,77.2 L173.0,77.6 L173.5,78.0 L174.0,78.4 L174.5,78.8 L175.0,79.2 L175.5,79.6 L176.0,80.0 L176.5,80.4 L177.0,80.8 L177.5,81.2 L178.0,81.6 L178.5,82.0 L179.0,82.4 L179.5,82.8 L180.0,83.2 L180.5,83.7 L181.0,84.1 L181.5,84.5 L182.0,84.9 L182.5,85.3 L183.0,85.7 L183.5,86.1 L184.0,86.5 L184.5,87.0 L185.0,87.4 L185.5,87.8 L186.0,88.2 L186.5,88.6 L187.0,89.0 L187.5,89.4 L188.0,89.9 L188.5,90.3 L189.0,90.7 L189.5,91.1 L190.0,91.5 L190.5,92.0 L191.0,92.4 L191.5,92.8 L192.0,93.2 L192.5,93.7 L193.0,94.1 L193.5,94.5 L194.0,94.9 L194.5,95.3 L195.0,95.8 L195.5,96.2 L196.0,96.6 L196.5,97.0 L197.0,97.5 L197.5,97.9 L198.0,98.3 L198.5,98.7 L199.0,99.2 L199.5,99.6 L200.0,100.0 L200.5,100.5 L201.0,100.9 L201.5,101.3 L202.0,101.7 L202.5,102.2 L203.0,102.6 L203.5,103.0 L204.0,103.5 L204.5,103.9 L205.0,104.3 L205.5,104.7 L206.0,105.2 L206.5,105.6 L207.0,106.0 L207.5,106.5 L208.0,106.9 L208.5,107.3 L209.0,107.7 L209.5,108.2 L210.0,108.6 L210.5,109.0 L211.0,109.5 L211.5,109.9 L212.0,110.3 L212.5,110.8 L213.0,111.2 L213.5,111.6 L214.0,112.0 L214.5,112.5 L215.0,112.9 L215.5,113.3 L216.0,113.8 L216.5,114.2 L217.0,114.6 L217.5,115.0 L218.0,115.5 L218.5,115.9 L219.0,116.3 L219.5,116.8 L220.0,117.2 L220.5,117.6 L221.0,118.0 L221.5,118.5 L222.0,118.9 L222.5,119.3 L223.0,119.7 L223.5,120.2 L224.0,120.6 L224.5,121.0 L225.0,121.4 L225.5,121.9 L226.0,122.3 L226.5,122.7 L227.0,123.1 L227.5,123.6 L228.0,124.0 L228.5,124.4 L229.0,124.8 L229.5,125.2 L230.0,125.7 L230.5,126.1 L231.0,126.5 L231.5,126.9 L232.0,127.3 L232.5,127.7 L233.0,128.2 L233.5,128.6 L234.0,129.0 L234.5,129.4 L235.0,129.8 L235.5,130.2 L236.0,130.6 L236.5,131.1 L237.0,131.5 L237.5,131.9 L238.0,132.3 L238.5,132.7 L239.0,133.1 L239.5,133.5 L240.0,133.9 L240.5,134.3 L241.0,134.7 L241.5,135.2 L242.0,135.6 L242.5,136.0 L243.0,136.4 L243.5,136.8 L244.0,137.2 L244.5,137.6 L245.0,138.0 L245.5,138.4 L246.0,138.8 L246.5,139.2 L247.0,139.6 L247.5,140.0 L248.0,140.4 L248.5,140.8 L249.0,141.2 L249.5,141.6 L250.0,142.0 L250.5,142.4 L251.0,142.8 L251.5,143.2 L252.0,143.6 L252.5,143.9 L253.0,144.3 L253.5,144.7 L254.0,145.1 L254.5,145.5 L255.0,145.9 L255.5,146.3 L256.0,146.7 L256.5,147.1 L257.0,147.5 L257.5,147.9 L258.0,148.2 L258.5,148.6 L259.0,149.0 L259.5,149.4 L260.0,149.8 L260.5,150.2 L261.0,150.6 L261.5,150.9 L262.0,151.3 L262.5,151.7 L263.0,152.1 L263.5,152.5 L264.0,152.8 L264.5,153.2 L265.0,153.6 L265.5,154.0 L266.0,154.4 L266.5,154.7 L267.0,155.1 L267.5,155.5 L268.0,155.9 L268.5,156.3 L269.0,156.6 L269.5,157.0 L270.0,157.4 L270.5,157.7 L271.0,158.1 L271.5,158.5 L272.0,158.9 L272.5,159.2 L273.0,159.6 L273.5,160.0 L274.0,160.3 L274.5,160.7 L275.0,161.1 L275.5,161.5 L276.0,161.8 L276.5,162.2 L277.0,162.6 L277.5,162.9 L278.0,163.3 L278.5,163.6 L279.0,164.0 L279.5,164.4 L280.0,164.7 L280.5,165.1 L281.0,165.5 L281.5,165.8 L282.0,166.2 L282.5,166.5 L283.0,166.9 L283.5,167.3 L284.0,167.6 L284.5,168.0 L285.0,168.3 L285.5,168.7 L286.0,169.0 L286.5,169.4 L287.0,169.8 L287.5,170.1 L288.0,170.5 L288.5,170.8 L289.0,171.2 L289.5,171.5 L290.0,171.9 L290.5,172.2 L291.0,172.6 L291.5,172.9 L292.0,173.3 L292.5,173.6 L293.0,174.0 L293.5,174.3 L294.0,174.7 L294.5,175.0 L295.0,175.4 L295.5,175.7 L296.0,176.1 L296.5,176.4 L297.0,176.8 L297.5,177.1 L298.0,177.4 L298.5,177.8 L299.0,178.1 L299.5,178.5 L300.0,178.8 L300.5,179.1 L301.0,179.5 L301.5,179.8 L302.0,180.2 L302.5,180.5 L303.0,180.8 L303.5,181.2 L304.0,181.5 L304.5,181.9 L305.0,182.2 L305.5,182.5 L306.0,182.9 L306.5,183.2 L307.0,183.5 L307.5,183.9 L308.0,184.2 L308.5,184.5 L309.0,184.9 L309.5,185.2 L310.0,185.5 L310.5,185.8 L311.0,186.2 L311.5,186.5 L312.0,186.8 L312.5,187.2 L313.0,187.5 L313.5,187.8 L314.0,188.1 L314.5,188.5 L315.0,188.8 L315.5,189.1 L316.0,189.4 L316.5,189.8 L317.0,190.1 L317.5,190.4 L318.0,190.7 L318.5,191.1 L319.0,191.4 L319.5,191.7 L320.0,192.0 L320.5,192.3 L321.0,192.7 L321.5,193.0 L322.0,193.3 L322.5,193.6 L323.0,193.9 L323.5,194.2 L324.0,194.6 L324.5,194.9 L325.0,195.2 L325.5,195.5 L326.0,195.8 L326.5,196.1 L327.0,196.4 L327.5,196.7 L328.0,197.1 L328.5,197.4 L329.0,197.7 L329.5,198.0 L330.0,198.3 L330.5,198.6 L331.0,198.9 L331.5,199.2 L332.0,199.5 L332.5,199.8 L333.0,200.1 L333.5,200.5 L334.0,200.8 L334.5,201.1 L335.0,201.4 L335.5,201.7 L336.0,202.0 L336.5,202.3 L337.0,202.6 L337.5,202.9 L338.0,203.2 L338.5,203.5 L339.0,203.8 L339.5,204.1 L340.0,204.4 L340.5,204.7 L341.0,205.0 L341.5,205.3 L342.0,205.6 L342.5,205.9 L343.0,206.2 L343.5,206.5 L344.0,206.8 L344.5,207.1 L345.0,207.4 L345.5,207.6 L346.0,207.9 L346.5,208.2 L347.0,208.5 L347.5,208.8 L348.0,209.1 L348.5,209.4 L349.0,209.7 L349.5,210.0 L350.0,210.3 L350.5,210.6 L351.0,210.8 L351.5,211.1 L352.0,211.4 L352.5,211.7 L353.0,212.0 L353.5,212.3 L354.0,212.6 L354.5,212.8 L355.0,213.1 L355.5,213.4 L356.0,213.7 L356.5,214.0 L357.0,214.3 L357.5,214.5 L358.0,214.8 L358.5,215.1 L359.0,215.4 L359.5,215.7 L360.0,215.9 L360.5,216.2 L361.0,216.5 L361.5,216.8 L362.0,217.1 L362.5,217.3 L363.0,217.6 L363.5,217.9 L364.0,218.2 L364.5,218.4 L365.0,218.7 L365.5,219.0 L366.0,219.3 L366.5,219.5 L367.0,219.8 L367.5,220.1 L367.5,230.5 L367.0,230.2 L366.5,229.9 L366.0,229.7 L365.5,229.4 L365.0,229.1 L364.5,228.8 L364.0,228.6 L363.5,228.3 L363.0,228.0 L362.5,227.7 L362.0,227.5 L361.5,227.2 L361.0,226.9 L360.5,226.6 L360.0,226.3 L359.5,226.1 L359.0,225.8 L358.5,225.5 L358.0,225.2 L357.5,224.9 L357.0,224.7 L356.5,224.4 L356.0,224.1 L355.5,223.8 L355.0,223.5 L354.5,223.2 L354.0,223.0 L353.5,222.7 L353.0,222.4 L352.5,222.1 L352.0,221.8 L351.5,221.5 L351.0,221.2 L350.5,221.0 L350.0,220.7 L349.5,220.4 L349.0,220.1 L348.5,219.8 L348.0,219.5 L347.5,219.2 L347.0,218.9 L346.5,218.6 L346.0,218.3 L345.5,218.0 L345.0,217.8 L344.5,217.5 L344.0,217.2 L343.5,216.9 L343.0,216.6 L342.5,216.3 L342.0,216.0 L341.5,215.7 L341.0,215.4 L340.5,215.1 L340.0,214.8 L339.5,214.5 L339.0,214.2 L338.5,213.9 L338.0,213.6 L337.5,213.3 L337.0,213.0 L336.5,212.7 L336.0,212.4 L335.5,212.1 L335.0,211.8 L334.5,211.5 L334.0,211.2 L333.5,210.9 L333.0,210.5 L332.5,210.2 L332.0,209.9 L331.5,209.6 L331.0,209.3 L330.5,209.0 L330.0,208.7 L329.5,208.4 L329.0,208.1 L328.5,207.8 L328.0,207.5 L327.5,207.1 L327.0,206.8 L326.5,206.5 L326.0,206.2 L325.5,205.9 L325.0,205.6 L324.5,205.3 L324.0,205.0 L323.5,204.6 L323.0,204.3 L322.5,204.0 L322.0,203.7 L321.5,203.4 L321.0,203.1 L320.5,202.7 L320.0,202.4 L319.5,202.1 L319.0,201.8 L318.5,201.5 L318.0,201.1 L317.5,200.8 L317.0,200.5 L316.5,200.2 L316.0,199.8 L315.5,199.5 L315.0,199.2 L314.5,198.9 L314.0,198.5 L313.5,198.2 L313.0,197.9 L312.5,197.6 L312.0,197.2 L311.5,196.9 L311.0,196.6 L310.5,196.2 L310.0,195.9 L309.5,195.6 L309.0,195.3 L308.5,194.9 L308.0,194.6 L307.5,194.3 L307.0,193.9 L306.5,193.6 L306.0,193.3 L305.5,192.9 L305.0,192.6 L304.5,192.3 L304.0,191.9 L303.5,191.6 L303.0,191.2 L302.5,190.9 L302.0,190.6 L301.5,190.2 L301.0,189.9 L300.5,189.5 L300.0,189.2 L299.5,188.9 L299.0,188.5 L298.5,188.2 L298.0,187.8 L297.5,187.5 L297.0,187.2 L296.5,186.8 L296.0,186.5 L295.5,186.1 L295.0,185.8 L294.5,185.4 L294.0,185.1 L293.5,184.7 L293.0,184.4 L292.5,184.0 L292.0,183.7 L291.5,183.3 L291.0,183.0 L290.5,182.6 L290.0,182.3 L289.5,181.9 L289.0,181.6 L288.5,181.2 L288.0,180.9 L287.5,180.5 L287.0,180.2 L286.5,179.8 L286.0,179.4 L285.5,179.1 L285.0,178.7 L284.5,178.4 L284.0,178.0 L283.5,177.7 L283.0,177.3 L282.5,176.9 L282.0,176.6 L281.5,176.2 L281.0,175.9 L280.5,175.5 L280.0,175.1 L279.5,174.8 L279.0,174.4 L278.5,174.0 L278.0,173.7 L277.5,173.3 L277.0,173.0 L276.5,172.6 L276.0,172.2 L275.5,171.9 L275.0,171.5 L274.5,171.1 L274.0,170.7 L273.5,170.4 L273.0,170.0 L272.5,169.6 L272.0,169.3 L271.5,168.9 L271.0,168.5 L270.5,168.1 L270.0,167.8 L269.5,167.4 L269.0,167.0 L268.5,166.7 L268.0,166.3 L267.5,165.9 L267.0,165.5 L266.5,165.1 L266.0,164.8 L265.5,164.4 L265.0,164.0 L264.5,163.6 L264.0,163.2 L263.5,162.9 L263.0,162.5 L262.5,162.1 L262.0,161.7 L261.5,161.3 L261.0,161.0 L260.5,160.6 L260.0,160.2 L259.5,159.8 L259.0,159.4 L258.5,159.0 L258.0,158.6 L257.5,158.3 L257.0,157.9 L256.5,157.5 L256.0,157.1 L255.5,156.7 L255.0,156.3 L254.5,155.9 L254.0,155.5 L253.5,155.1 L253.0,154.7 L252.5,154.3 L252.0,154.0 L251.5,153.6 L251.0,153.2 L250.5,152.8 L250.0,152.4 L249.5,152.0 L249.0,151.6 L248.5,151.2 L248.0,150.8 L247.5,150.4 L247.0,150.0 L246.5,149.6 L246.0,149.2 L245.5,148.8 L245.0,148.4 L244.5,148.0 L244.0,147.6 L243.5,147.2 L243.0,146.8 L242.5,146.4 L242.0,146.0 L241.5,145.6 L241.0,145.1 L240.5,144.7 L240.0,144.3 L239.5,143.9 L239.0,143.5 L238.5,143.1 L238.0,142.7 L237.5,142.3 L237.0,141.9 L236.5,141.5 L236.0,141.0 L235.5,140.6 L235.0,140.2 L234.5,139.8 L234.0,139.4 L233.5,139.0 L233.0,138.6 L232.5,138.1 L232.0,137.7 L231.5,137.3 L231.0,136.9 L230.5,136.5 L230.0,136.1 L229.5,135.6 L229.0,135.2 L228.5,134.8 L228.0,134.4 L227.5,134.0 L227.0,133.5 L226.5,133.1 L226.0,132.7 L225.5,132.3 L225.0,131.8 L224.5,131.4 L224.0,131.0 L223.5,130.6 L223.0,130.1 L222.5,129.7 L222.0,129.3 L221.5,128.9 L221.0,128.4 L220.5,128.0 L220.0,127.6 L219.5,127.2 L219.0,126.7 L218.5,126.3 L218.0,125.9 L217.5,125.4 L217.0,125.0 L216.5,124.6 L216.0,124.2 L215.5,123.7 L215.0,123.3 L214.5,122.9 L214.0,122.4 L213.5,122.0 L213.0,121.6 L212.5,121.2 L212.0,120.7 L211.5,120.3 L211.0,119.9 L210.5,119.4 L210.0,119.0 L209.5,118.6 L209.0,118.1 L208.5,117.7 L208.0,117.3 L207.5,116.9 L207.0,116.4 L206.5,116.0 L206.0,115.6 L205.5,115.1 L205.0,114.7 L204.5,114.3 L204.0,113.9 L203.5,113.4 L203.0,113.0 L202.5,112.6 L202.0,112.1 L201.5,111.7 L201.0,111.3 L200.5,110.9 L200.0,110.4 L199.5,110.0 L199.0,109.6 L198.5,109.1 L198.0,108.7 L197.5,108.3 L197.0,107.9 L196.5,107.4 L196.0,107.0 L195.5,106.6 L195.0,106.2 L194.5,105.7 L194.0,105.3 L193.5,104.9 L193.0,104.5 L192.5,104.1 L192.0,103.6 L191.5,103.2 L191.0,102.8 L190.5,102.4 L190.0,101.9 L189.5,101.5 L189.0,101.1 L188.5,100.7 L188.0,100.3 L187.5,99.8 L187.0,99.4 L186.5,99.0 L186.0,98.6 L185.5,98.2 L185.0,97.8 L184.5,97.4 L184.0,96.9 L183.5,96.5 L183.0,96.1 L182.5,95.7 L182.0,95.3 L181.5,94.9 L181.0,94.5 L180.5,94.1 L180.0,93.6 L179.5,93.2 L179.0,92.8 L178.5,92.4 L178.0,92.0 L177.5,91.6 L177.0,91.2 L176.5,90.8 L176.0,90.4 L175.5,90.0 L175.0,89.6 L174.5,89.2 L174.0,88.8 L173.5,88.4 L173.0,88.0 L172.5,87.6 L172.0,87.2 L171.5,86.8 L171.0,86.4 L170.5,86.0 L170.0,85.6 L169.5,85.3 L169.0,84.9 L168.5,84.5 L168.0,84.1 L167.5,83.7 L167.0,83.3 L166.5,82.9 L166.0,82.5 L165.5,82.2 L165.0,81.8 L164.5,81.4 L164.0,81.0 L163.5,80.6 L163.0,80.3 L162.5,79.9 L162.0,79.5 L161.5,79.1 L161.0,78.8 L160.5,78.4 L160.0,78.0 L159.5,77.7 L159.0,77.3 L158.5,76.9 L158.0,76.6 L157.5,76.2 L157.0,75.8 L156.5,75.5 L156.0,75.1 L155.5,74.8 L155.0,74.4 L154.5,74.0 L154.0,73.7 L153.5,73.3 L153.0,73.0 L152.5,72.6 L152.0,72.3 L151.5,71.9 L151.0,71.6 L150.5,71.3 L150.0,70.9 L149.5,70.6 L149.0,70.3 L148.5,70.0 L148.0,69.6 L147.5,69.3 L147.0,69.0 L146.5,68.7 L146.0,68.4 L145.5,68.1 L145.0,67.8 L144.5,67.5 L144.0,67.2 L143.5,66.9 L143.0,66.7 L142.5,66.4 L142.0,66.1 L141.5,65.9 L141.0,65.6 L140.5,65.4 L140.0,65.1 L139.5,64.9 L139.0,64.7 L138.5,64.5 L138.0,64.3 L137.5,64.0 L137.0,63.8 L136.5,63.7 L136.0,63.5 L135.5,63.3 L135.0,63.1 L134.5,63.0 L134.0,62.8 L133.5,62.7 L133.0,62.5 L132.5,62.4 L132.0,62.3 L131.5,62.2 L131.0,62.1 L130.5,62.0 L130.0,61.9 L129.5,61.8 L129.0,61.8 L128.5,61.7 L128.0,61.7 L127.5,61.7 L127.0,61.6 L126.5,61.6 L126.0,61.6 L125.5,61.6 L125.0,61.7 L124.5,61.7 L124.0,61.7 L123.5,61.8 L123.0,61.9 L122.5,61.9 L122.0,62.0 L121.5,62.1 L121.0,62.2 L120.5,62.4 L120.0,62.5 L119.5,62.7 L119.0,62.8 L118.5,63.0 L118.0,63.2 L117.5,63.4 L117.0,63.6 L116.5,63.9 L116.0,64.1 L115.5,64.4 L115.0,64.7 L114.5,65.0 L114.0,65.3 L113.5,65.6 L113.0,65.9 L112.5,66.3 L112.0,66.7 L111.5,67.0 L111.0,67.4 L110.5,67.9 L110.0,68.3 L109.5,68.8 L109.0,69.2 L108.5,69.7 L108.0,70.2 L107.5,70.8 L107.0,71.3 L106.5,71.9 L106.0,72.4 L105.5,73.0 L105.0,73.7 L104.5,74.3 L104.0,75.0 L103.5,75.6 L103.0,76.3 L102.5,77.0 L102.0,77.8 L101.5,78.5 L101.0,79.3 L100.5,80.1 L100.0,80.9 L99.5,81.8 L99.0,82.6 L98.5,83.5 L98.0,84.4 L97.5,85.4 L97.0,86.3 L96.5,87.3 L96.0,88.3 L95.5,89.3 L95.0,90.4 L94.5,91.5 L94.0,92.6 L93.5,93.8 L93.0,94.9 L92.5,96.2 L92.0,97.4 L91.5,98.7 L91.0,100.0 L90.5,101.4 L90.0,102.8 L89.5,104.2 L89.0,105.7 L88.5,107.3 L88.0,108.8 L87.5,110.5 L87.0,112.1 L86.5,113.8 L86.0,115.6 L85.5,117.4 L85.0,119.3 L84.5,121.2 L84.0,123.1 L83.5,125.0 L83.0,126.9 L82.5,128.8 L82.0,130.7 L81.5,132.6 L81.0,134.4 L80.5,136.2 L80.0,138.0 L79.5,139.7 L79.0,141.4 L78.5,143.1 L78.0,144.8 L77.5,146.6 L77.0,148.4 L76.5,150.2 L76.0,152.1 L75.5,154.0 L75.0,156.1 L74.5,158.3 L74.0,160.5 L73.5,163.0 L73.0,165.5 L72.5,168.2 L72.0,171.1 L71.5,174.2 L71.0,177.5 L70.5,180.8 L70.0,184.3 L69.5,187.6 L69.0,190.8 L68.5,193.8 L68.0,196.6 L67.5,199.1 L67.0,201.4 L66.5,203.7 L66.0,205.9 L65.5,208.1 L65.0,210.4 L64.5,212.8 L64.0,215.4 L63.5,218.1 L63.0,220.8 L62.5,223.5 L62.0,226.3 L61.5,229.0 L61.0,231.9 L60.5,234.8 L60.0,237.6 L59.5,240.1 L59.0,242.0 L58.5,243.5 L58.0,244.6 L57.5,245.5 L57.0,246.5 L56.5,247.6 L56.0,248.9 L55.5,250.1 L55.0,251.2 L54.5,252.1 L54.0,252.7 L53.5,253.1 L53.0,253.3 L52.5,253.2 L52.0,253.0 L51.5,252.6 L51.0,252.2 L50.5,251.7 L50.0,251.2 L49.5,250.7 L49.0,250.3 L48.5,249.9 L48.0,249.6 L47.5,249.2 L47.0,248.9 L46.5,248.7 L46.0,248.4 L45.5,248.2 L45.0,247.9 L44.5,247.7 L44.0,247.5 L43.5,247.2 L43.0,247.0 L42.5,246.8 L42.0,246.5 L41.5,246.3 L41.0,246.0 L40.5,245.7 L40.0,245.3 L39.5,245.0 L39.0,244.6 Z" fill="#00ee22" fill-opacity="0.27" stroke="#00ee22" stroke-opacity="0.3" stroke-width="1.1"/>
<path d="M39.0,243.8 L39.5,244.0 L40.0,244.1 L40.5,244.2 L41.0,244.3 L41.5,244.4 L42.0,244.5 L42.5,244.6 L43.0,244.7 L43.5,244.8 L44.0,244.9 L44.5,245.0 L45.0,245.1 L45.5,245.2 L46.0,245.3 L46.5,245.4 L47.0,245.4 L47.5,245.5 L48.0,245.6 L48.5,245.6 L49.0,245.7 L49.5,245.8 L50.0,245.8 L50.5,245.9 L51.0,246.0 L51.5,246.0 L52.0,246.1 L52.5,246.1 L53.0,246.2 L53.5,246.2 L54.0,246.2 L54.5,246.3 L55.0,246.3 L55.5,246.4 L56.0,246.4 L56.5,246.4 L57.0,246.4 L57.5,246.5 L58.0,246.5 L58.5,246.5 L59.0,246.5 L59.5,246.6 L60.0,246.6 L60.5,246.6 L61.0,246.6 L61.5,246.6 L62.0,246.6 L62.5,246.6 L63.0,246.6 L63.5,246.7 L64.0,246.7 L64.5,246.7 L65.0,246.7 L65.5,246.7 L66.0,246.7 L66.5,246.7 L67.0,246.6 L67.5,246.6 L68.0,246.6 L68.5,246.6 L69.0,246.6 L69.5,246.6 L70.0,246.6 L70.5,246.6 L71.0,246.6 L71.5,246.6 L72.0,246.5 L72.5,246.5 L73.0,246.5 L73.5,246.5 L74.0,246.5 L74.5,246.4 L75.0,246.4 L75.5,246.4 L76.0,246.4 L76.5,246.3 L77.0,246.3 L77.5,246.3 L78.0,246.3 L78.5,246.2 L79.0,246.2 L79.5,246.2 L80.0,246.2 L80.5,246.1 L81.0,246.1 L81.5,246.1 L82.0,246.0 L82.5,246.0 L83.0,246.0 L83.5,245.9 L84.0,245.9 L84.5,245.8 L85.0,245.8 L85.5,245.8 L86.0,245.7 L86.5,245.7 L87.0,245.6 L87.5,245.6 L88.0,245.6 L88.5,245.5 L89.0,245.5 L89.5,245.4 L90.0,245.4 L90.5,245.3 L91.0,245.3 L91.5,245.2 L92.0,245.2 L92.5,245.1 L93.0,245.1 L93.5,245.1 L94.0,245.0 L94.5,245.0 L95.0,244.9 L95.5,244.8 L96.0,244.8 L96.5,244.7 L97.0,244.7 L97.5,244.6 L98.0,244.6 L98.5,244.5 L99.0,244.5 L99.5,244.4 L100.0,244.4 L100.5,244.3 L101.0,244.3 L101.5,244.2 L102.0,244.1 L102.5,244.1 L103.0,244.0 L103.5,244.0 L104.0,243.9 L104.5,243.9 L105.0,243.8 L105.5,243.7 L106.0,243.7 L106.5,243.6 L107.0,243.6 L107.5,243.5 L108.0,243.4 L108.5,243.4 L109.0,243.3 L109.5,243.3 L110.0,243.2 L110.5,243.1 L111.0,243.1 L111.5,243.0 L112.0,242.9 L112.5,242.9 L113.0,242.8 L113.5,242.8 L114.0,242.7 L114.5,242.6 L115.0,242.6 L115.5,242.5 L116.0,242.4 L116.5,242.4 L117.0,242.3 L117.5,242.3 L118.0,242.2 L118.5,242.1 L119.0,242.1 L119.5,242.0 L120.0,241.9 L120.5,241.9 L121.0,241.8 L121.5,241.8 L122.0,241.7 L122.5,241.6 L123.0,241.6 L123.5,241.5 L124.0,241.4 L124.5,241.4 L125.0,241.3 L125.5,241.2 L126.0,241.2 L126.5,241.1 L127.0,241.1 L127.5,241.0 L128.0,240.9 L128.5,240.9 L129.0,240.8 L129.5,240.8 L130.0,240.7 L130.5,240.6 L131.0,240.6 L131.5,240.5 L132.0,240.5 L132.5,240.4 L133.0,240.3 L133.5,240.3 L134.0,240.2 L134.5,240.2 L135.0,240.1 L135.5,240.0 L136.0,240.0 L136.5,239.9 L137.0,239.9 L137.5,239.8 L138.0,239.8 L138.5,239.7 L139.0,239.6 L139.5,239.6 L140.0,239.5 L140.5,239.5 L141.0,239.4 L141.5,239.4 L142.0,239.3 L142.5,239.3 L143.0,239.2 L143.5,239.2 L144.0,239.1 L144.5,239.1 L145.0,239.0 L145.5,239.0 L146.0,238.9 L146.5,238.9 L147.0,238.8 L147.5,238.8 L148.0,238.7 L148.5,238.7 L149.0,238.6 L149.5,238.6 L150.0,238.5 L150.5,238.5 L151.0,238.5 L151.5,238.4 L152.0,238.4 L152.5,238.3 L153.0,238.3 L153.5,238.3 L154.0,238.2 L154.5,238.2 L155.0,238.1 L155.5,238.1 L156.0,238.1 L156.5,238.0 L157.0,238.0 L157.5,238.0 L158.0,237.9 L158.5,237.9 L159.0,237.9 L159.5,237.8 L160.0,237.8 L160.5,237.8 L161.0,237.7 L161.5,237.7 L162.0,237.7 L162.5,237.6 L163.0,237.6 L163.5,237.6 L164.0,237.6 L164.5,237.5 L165.0,237.5 L165.5,237.5 L166.0,237.5 L166.5,237.4 L167.0,237.4 L167.5,237.4 L168.0,237.4 L168.5,237.3 L169.0,237.3 L169.5,237.3 L170.0,237.3 L170.5,237.3 L171.0,237.2 L171.5,237.2 L172.0,237.2 L172.5,237.2 L173.0,237.2 L173.5,237.2 L174.0,237.1 L174.5,237.1 L175.0,237.1 L175.5,237.1 L176.0,237.1 L176.5,237.1 L177.0,237.1 L177.5,237.0 L178.0,237.0 L178.5,237.0 L179.0,237.0 L179.5,237.0 L180.0,237.0 L180.5,237.0 L181.0,237.0 L181.5,237.0 L182.0,237.0 L182.5,237.0 L183.0,237.0 L183.5,236.9 L184.0,236.9 L184.5,236.9 L185.0,236.9 L185.5,236.9 L186.0,236.9 L186.5,236.9 L187.0,236.9 L187.5,236.9 L188.0,236.9 L188.5,236.9 L189.0,236.9 L189.5,236.9 L190.0,236.9 L190.5,236.9 L191.0,236.9 L191.5,236.9 L192.0,236.9 L192.5,236.9 L193.0,236.9 L193.5,236.9 L194.0,236.9 L194.5,236.9 L195.0,236.9 L195.5,236.9 L196.0,237.0 L196.5,237.0 L197.0,237.0 L197.5,237.0 L198.0,237.0 L198.5,237.0 L199.0,237.0 L199.5,237.0 L200.0,237.0 L200.5,237.0 L201.0,237.0 L201.5,237.0 L202.0,237.1 L202.5,237.1 L203.0,237.1 L203.5,237.1 L204.0,237.1 L204.5,237.1 L205.0,237.1 L205.5,237.1 L206.0,237.2 L206.5,237.2 L207.0,237.2 L207.5,237.2 L208.0,237.2 L208.5,237.2 L209.0,237.3 L209.5,237.3 L210.0,237.3 L210.5,237.3 L211.0,237.3 L211.5,237.3 L212.0,237.4 L212.5,237.4 L213.0,237.4 L213.5,237.4 L214.0,237.4 L214.5,237.5 L215.0,237.5 L215.5,237.5 L216.0,237.5 L216.5,237.6 L217.0,237.6 L217.5,237.6 L218.0,237.6 L218.5,237.6 L219.0,237.7 L219.5,237.7 L220.0,237.7 L220.5,237.7 L221.0,237.8 L221.5,237.8 L222.0,237.8 L222.5,237.8 L223.0,237.9 L223.5,237.9 L224.0,237.9 L224.5,238.0 L225.0,238.0 L225.5,238.0 L226.0,238.0 L226.5,238.1 L227.0,238.1 L227.5,238.1 L228.0,238.2 L228.5,238.2 L229.0,238.2 L229.5,238.2 L230.0,238.3 L230.5,238.3 L231.0,238.3 L231.5,238.4 L232.0,238.4 L232.5,238.4 L233.0,238.5 L233.5,238.5 L234.0,238.5 L234.5,238.6 L235.0,238.6 L235.5,238.6 L236.0,238.7 L236.5,238.7 L237.0,238.7 L237.5,238.8 L238.0,238.8 L238.5,238.8 L239.0,238.9 L239.5,238.9 L240.0,238.9 L240.5,239.0 L241.0,239.0 L241.5,239.1 L242.0,239.1 L242.5,239.1 L243.0,239.2 L243.5,239.2 L244.0,239.2 L244.5,239.3 L245.0,239.3 L245.5,239.4 L246.0,239.4 L246.5,239.4 L247.0,239.5 L247.5,239.5 L248.0,239.6 L248.5,239.6 L249.0,239.6 L249.5,239.7 L250.0,239.7 L250.5,239.8 L251.0,239.8 L251.5,239.8 L252.0,239.9 L252.5,239.9 L253.0,240.0 L253.5,240.0 L254.0,240.1 L254.5,240.1 L255.0,240.1 L255.5,240.2 L256.0,240.2 L256.5,240.3 L257.0,240.3 L257.5,240.4 L258.0,240.4 L258.5,240.4 L259.0,240.5 L259.5,240.5 L260.0,240.6 L260.5,240.6 L261.0,240.7 L261.5,240.7 L262.0,240.8 L262.5,240.8 L263.0,240.8 L263.5,240.9 L264.0,240.9 L264.5,241.0 L265.0,241.0 L265.5,241.1 L266.0,241.1 L266.5,241.2 L267.0,241.2 L267.5,241.3 L268.0,241.3 L268.5,241.3 L269.0,241.4 L269.5,241.4 L270.0,241.5 L270.5,241.5 L271.0,241.6 L271.5,241.6 L272.0,241.7 L272.5,241.7 L273.0,241.8 L273.5,241.8 L274.0,241.9 L274.5,241.9 L275.0,242.0 L275.5,242.0 L276.0,242.1 L276.5,242.1 L277.0,242.2 L277.5,242.2 L278.0,242.3 L278.5,242.3 L279.0,242.3 L279.5,242.4 L280.0,242.4 L280.5,242.5 L281.0,242.5 L281.5,242.6 L282.0,242.6 L282.5,242.7 L283.0,242.7 L283.5,242.8 L284.0,242.8 L284.5,242.9 L285.0,242.9 L285.5,243.0 L286.0,243.0 L286.5,243.1 L287.0,243.1 L287.5,243.2 L288.0,243.2 L288.5,243.3 L289.0,243.3 L289.5,243.4 L290.0,243.4 L290.5,243.5 L291.0,243.5 L291.5,243.6 L292.0,243.6 L292.5,243.7 L293.0,243.7 L293.5,243.8 L294.0,243.8 L294.5,243.9 L295.0,243.9 L295.5,244.0 L296.0,244.0 L296.5,244.1 L297.0,244.1 L297.5,244.2 L298.0,244.2 L298.5,244.3 L299.0,244.3 L299.5,244.4 L300.0,244.4 L300.5,244.5 L301.0,244.5 L301.5,244.6 L302.0,244.6 L302.5,244.7 L303.0,244.7 L303.5,244.8 L304.0,244.8 L304.5,244.9 L305.0,244.9 L305.5,245.0 L306.0,245.0 L306.5,245.1 L307.0,245.1 L307.5,245.2 L308.0,245.2 L308.5,245.3 L309.0,245.3 L309.5,245.4 L310.0,245.4 L310.5,245.5 L311.0,245.5 L311.5,245.6 L312.0,245.6 L312.5,245.7 L313.0,245.7 L313.5,245.8 L314.0,245.8 L314.5,245.8 L315.0,245.9 L315.5,245.9 L316.0,246.0 L316.5,246.0 L317.0,246.1 L317.5,246.1 L318.0,246.2 L318.5,246.2 L319.0,246.3 L319.5,246.3 L320.0,246.4 L320.5,246.4 L321.0,246.5 L321.5,246.5 L322.0,246.6 L322.5,246.6 L323.0,246.6 L323.5,246.7 L324.0,246.7 L324.5,246.8 L325.0,246.8 L325.5,246.9 L326.0,246.9 L326.5,247.0 L327.0,247.0 L327.5,247.1 L328.0,247.1 L328.5,247.2 L329.0,247.2 L329.5,247.2 L330.0,247.3 L330.5,247.3 L331.0,247.4 L331.5,247.4 L332.0,247.5 L332.5,247.5 L333.0,247.5 L333.5,247.6 L334.0,247.6 L334.5,247.7 L335.0,247.7 L335.5,247.8 L336.0,247.8 L336.5,247.8 L337.0,247.9 L337.5,247.9 L338.0,248.0 L338.5,248.0 L339.0,248.1 L339.5,248.1 L340.0,248.1 L340.5,248.2 L341.0,248.2 L341.5,248.3 L342.0,248.3 L342.5,248.3 L343.0,248.4 L343.5,248.4 L344.0,248.5 L344.5,248.5 L345.0,248.5 L345.5,248.6 L346.0,248.6 L346.5,248.6 L347.0,248.7 L347.5,248.7 L348.0,248.8 L348.5,248.8 L349.0,248.8 L349.5,248.9 L350.0,248.9 L350.5,248.9 L351.0,249.0 L351.5,249.0 L352.0,249.1 L352.5,249.1 L353.0,249.1 L353.5,249.2 L354.0,249.2 L354.5,249.2 L355.0,249.3 L355.5,249.3 L356.0,249.3 L356.5,249.4 L357.0,249.4 L357.5,249.4 L358.0,249.5 L358.5,249.5 L359.0,249.5 L359.5,249.5 L360.0,249.6 L360.5,249.6 L361.0,249.6 L361.5,249.7 L362.0,249.7 L362.5,249.7 L363.0,249.8 L363.5,249.8 L364.0,249.8 L364.5,249.8 L365.0,249.9 L365.5,249.9 L366.0,249.9 L366.5,250.0 L367.0,250.0 L367.5,250.0" fill="none" stroke="#ff40ff" stroke-width="1.0" stroke-dasharray="1.2 1.9"/>
<path d="M39.0,244.2 L39.5,244.1 L40.0,244.1 L40.5,244.1 L41.0,244.1 L41.5,244.2 L42.0,244.3 L42.5,244.5 L43.0,244.6 L43.5,244.8 L44.0,245.0 L44.5,245.2 L45.0,245.4 L45.5,245.6 L46.0,245.8 L46.5,245.9 L47.0,246.1 L47.5,246.2 L48.0,246.3 L48.5,246.4 L49.0,246.5 L49.5,246.5 L50.0,246.4 L50.5,246.3 L51.0,246.2 L51.5,246.0 L52.0,245.7 L52.5,245.4 L53.0,245.0 L53.5,244.6 L54.0,244.1 L54.5,243.5 L55.0,242.9 L55.5,242.3 L56.0,241.5 L56.5,240.8 L57.0,239.9 L57.5,239.1 L58.0,238.1 L58.5,237.2 L59.0,236.2 L59.5,235.1 L60.0,234.1 L60.5,233.0 L61.0,231.9 L61.5,230.7 L62.0,229.6 L62.5,228.5 L63.0,227.4 L63.5,226.3 L64.0,225.2 L64.5,224.2 L65.0,223.2 L65.5,222.2 L66.0,221.2 L66.5,220.3 L67.0,219.4 L67.5,218.6 L68.0,217.7 L68.5,216.9 L69.0,216.1 L69.5,215.4 L70.0,214.6 L70.5,213.9 L71.0,213.2 L71.5,212.5 L72.0,211.9 L72.5,211.2 L73.0,210.6 L73.5,210.0 L74.0,209.4 L74.5,208.9 L75.0,208.3 L75.5,207.7 L76.0,207.2 L76.5,206.7 L77.0,206.2 L77.5,205.7 L78.0,205.2 L78.5,204.7 L79.0,204.3 L79.5,203.8 L80.0,203.4 L80.5,203.0 L81.0,202.6 L81.5,202.2 L82.0,201.8 L82.5,201.4 L83.0,201.0 L83.5,200.7 L84.0,200.4 L84.5,200.0 L85.0,199.7 L85.5,199.4 L86.0,199.1 L86.5,198.8 L87.0,198.5 L87.5,198.3 L88.0,198.0 L88.5,197.8 L89.0,197.5 L89.5,197.3 L90.0,197.1 L90.5,196.9 L91.0,196.7 L91.5,196.5 L92.0,196.3 L92.5,196.2 L93.0,196.0 L93.5,195.9 L94.0,195.7 L94.5,195.6 L95.0,195.4 L95.5,195.3 L96.0,195.2 L96.5,195.1 L97.0,195.0 L97.5,194.9 L98.0,194.8 L98.5,194.7 L99.0,194.7 L99.5,194.6 L100.0,194.5 L100.5,194.5 L101.0,194.4 L101.5,194.4 L102.0,194.4 L102.5,194.3 L103.0,194.3 L103.5,194.3 L104.0,194.3 L104.5,194.3 L105.0,194.3 L105.5,194.3 L106.0,194.3 L106.5,194.3 L107.0,194.3 L107.5,194.3 L108.0,194.4 L108.5,194.4 L109.0,194.4 L109.5,194.4 L110.0,194.5 L110.5,194.5 L111.0,194.6 L111.5,194.6 L112.0,194.7 L112.5,194.7 L113.0,194.8 L113.5,194.8 L114.0,194.9 L114.5,195.0 L115.0,195.0 L115.5,195.1 L116.0,195.2 L116.5,195.2 L117.0,195.3 L117.5,195.4 L118.0,195.4 L118.5,195.5 L119.0,195.6 L119.5,195.7 L120.0,195.7 L120.5,195.8 L121.0,195.9 L121.5,196.0 L122.0,196.0 L122.5,196.1 L123.0,196.2 L123.5,196.3 L124.0,196.3 L124.5,196.4 L125.0,196.5 L125.5,196.6 L126.0,196.6 L126.5,196.7 L127.0,196.8 L127.5,196.9 L128.0,197.0 L128.5,197.0 L129.0,197.1 L129.5,197.2 L130.0,197.3 L130.5,197.4 L131.0,197.4 L131.5,197.5 L132.0,197.6 L132.5,197.7 L133.0,197.8 L133.5,197.8 L134.0,197.9 L134.5,198.0 L135.0,198.1 L135.5,198.2 L136.0,198.2 L136.5,198.3 L137.0,198.4 L137.5,198.5 L138.0,198.6 L138.5,198.7 L139.0,198.7 L139.5,198.8 L140.0,198.9 L140.5,199.0 L141.0,199.1 L141.5,199.2 L142.0,199.2 L142.5,199.3 L143.0,199.4 L143.5,199.5 L144.0,199.6 L144.5,199.7 L145.0,199.8 L145.5,199.8 L146.0,199.9 L146.5,200.0 L147.0,200.1 L147.5,200.2 L148.0,200.3 L148.5,200.4 L149.0,200.5 L149.5,200.5 L150.0,200.6 L150.5,200.7 L151.0,200.8 L151.5,200.9 L152.0,201.0 L152.5,201.1 L153.0,201.2 L153.5,201.2 L154.0,201.3 L154.5,201.4 L155.0,201.5 L155.5,201.6 L156.0,201.7 L156.5,201.8 L157.0,201.9 L157.5,202.0 L158.0,202.0 L158.5,202.1 L159.0,202.2 L159.5,202.3 L160.0,202.4 L160.5,202.5 L161.0,202.6 L161.5,202.7 L162.0,202.8 L162.5,202.9 L163.0,203.0 L163.5,203.0 L164.0,203.1 L164.5,203.2 L165.0,203.3 L165.5,203.4 L166.0,203.5 L166.5,203.6 L167.0,203.7 L167.5,203.8 L168.0,203.9 L168.5,204.0 L169.0,204.1 L169.5,204.1 L170.0,204.2 L170.5,204.3 L171.0,204.4 L171.5,204.5 L172.0,204.6 L172.5,204.7 L173.0,204.8 L173.5,204.9 L174.0,205.0 L174.5,205.1 L175.0,205.2 L175.5,205.3 L176.0,205.4 L176.5,205.5 L177.0,205.5 L177.5,205.6 L178.0,205.7 L178.5,205.8 L179.0,205.9 L179.5,206.0 L180.0,206.1 L180.5,206.2 L181.0,206.3 L181.5,206.4 L182.0,206.5 L182.5,206.6 L183.0,206.7 L183.5,206.8 L184.0,206.9 L184.5,207.0 L185.0,207.1 L185.5,207.2 L186.0,207.3 L186.5,207.4 L187.0,207.4 L187.5,207.5 L188.0,207.6 L188.5,207.7 L189.0,207.8 L189.5,207.9 L190.0,208.0 L190.5,208.1 L191.0,208.2 L191.5,208.3 L192.0,208.4 L192.5,208.5 L193.0,208.6 L193.5,208.7 L194.0,208.8 L194.5,208.9 L195.0,209.0 L195.5,209.1 L196.0,209.2 L196.5,209.3 L197.0,209.4 L197.5,209.5 L198.0,209.6 L198.5,209.7 L199.0,209.8 L199.5,209.9 L200.0,209.9 L200.5,210.0 L201.0,210.1 L201.5,210.2 L202.0,210.3 L202.5,210.4 L203.0,210.5 L203.5,210.6 L204.0,210.7 L204.5,210.8 L205.0,210.9 L205.5,211.0 L206.0,211.1 L206.5,211.2 L207.0,211.3 L207.5,211.4 L208.0,211.5 L208.5,211.6 L209.0,211.7 L209.5,211.8 L210.0,211.9 L210.5,212.0 L211.0,212.1 L211.5,212.2 L212.0,212.3 L212.5,212.4 L213.0,212.5 L213.5,212.6 L214.0,212.7 L214.5,212.8 L215.0,212.8 L215.5,212.9 L216.0,213.0 L216.5,213.1 L217.0,213.2 L217.5,213.3 L218.0,213.4 L218.5,213.5 L219.0,213.6 L219.5,213.7 L220.0,213.8 L220.5,213.9 L221.0,214.0 L221.5,214.1 L222.0,214.2 L222.5,214.3 L223.0,214.4 L223.5,214.5 L224.0,214.6 L224.5,214.7 L225.0,214.8 L225.5,214.9 L226.0,215.0 L226.5,215.1 L227.0,215.2 L227.5,215.3 L228.0,215.3 L228.5,215.4 L229.0,215.5 L229.5,215.6 L230.0,215.7 L230.5,215.8 L231.0,215.9 L231.5,216.0 L232.0,216.1 L232.5,216.2 L233.0,216.3 L233.5,216.4 L234.0,216.5 L234.5,216.6 L235.0,216.7 L235.5,216.8 L236.0,216.9 L236.5,217.0 L237.0,217.0 L237.5,217.1 L238.0,217.2 L238.5,217.3 L239.0,217.4 L239.5,217.5 L240.0,217.6 L240.5,217.7 L241.0,217.8 L241.5,217.9 L242.0,218.0 L242.5,218.1 L243.0,218.2 L243.5,218.3 L244.0,218.4 L244.5,218.4 L245.0,218.5 L245.5,218.6 L246.0,218.7 L246.5,218.8 L247.0,218.9 L247.5,219.0 L248.0,219.1 L248.5,219.2 L249.0,219.3 L249.5,219.4 L250.0,219.5 L250.5,219.5 L251.0,219.6 L251.5,219.7 L252.0,219.8 L252.5,219.9 L253.0,220.0 L253.5,220.1 L254.0,220.2 L254.5,220.3 L255.0,220.4 L255.5,220.5 L256.0,220.5 L256.5,220.6 L257.0,220.7 L257.5,220.8 L258.0,220.9 L258.5,221.0 L259.0,221.1 L259.5,221.2 L260.0,221.3 L260.5,221.3 L261.0,221.4 L261.5,221.5 L262.0,221.6 L262.5,221.7 L263.0,221.8 L263.5,221.9 L264.0,222.0 L264.5,222.0 L265.0,222.1 L265.5,222.2 L266.0,222.3 L266.5,222.4 L267.0,222.5 L267.5,222.6 L268.0,222.6 L268.5,222.7 L269.0,222.8 L269.5,222.9 L270.0,223.0 L270.5,223.1 L271.0,223.2 L271.5,223.2 L272.0,223.3 L272.5,223.4 L273.0,223.5 L273.5,223.6 L274.0,223.7 L274.5,223.7 L275.0,223.8 L275.5,223.9 L276.0,224.0 L276.5,224.1 L277.0,224.2 L277.5,224.2 L278.0,224.3 L278.5,224.4 L279.0,224.5 L279.5,224.6 L280.0,224.6 L280.5,224.7 L281.0,224.8 L281.5,224.9 L282.0,225.0 L282.5,225.0 L283.0,225.1 L283.5,225.2 L284.0,225.3 L284.5,225.4 L285.0,225.4 L285.5,225.5 L286.0,225.6 L286.5,225.7 L287.0,225.7 L287.5,225.8 L288.0,225.9 L288.5,226.0 L289.0,226.1 L289.5,226.1 L290.0,226.2 L290.5,226.3 L291.0,226.4 L291.5,226.4 L292.0,226.5 L292.5,226.6 L293.0,226.7 L293.5,226.7 L294.0,226.8 L294.5,226.9 L295.0,227.0 L295.5,227.0 L296.0,227.1 L296.5,227.2 L297.0,227.3 L297.5,227.3 L298.0,227.4 L298.5,227.5 L299.0,227.5 L299.5,227.6 L300.0,227.7 L300.5,227.8 L301.0,227.8 L301.5,227.9 L302.0,228.0 L302.5,228.0 L303.0,228.1 L303.5,228.2 L304.0,228.2 L304.5,228.3 L305.0,228.4 L305.5,228.4 L306.0,228.5 L306.5,228.6 L307.0,228.6 L307.5,228.7 L308.0,228.8 L308.5,228.8 L309.0,228.9 L309.5,229.0 L310.0,229.0 L310.5,229.1 L311.0,229.2 L311.5,229.2 L312.0,229.3 L312.5,229.4 L313.0,229.4 L313.5,229.5 L314.0,229.6 L314.5,229.6 L315.0,229.7 L315.5,229.7 L316.0,229.8 L316.5,229.9 L317.0,229.9 L317.5,230.0 L318.0,230.0 L318.5,230.1 L319.0,230.2 L319.5,230.2 L320.0,230.3 L320.5,230.3 L321.0,230.4 L321.5,230.5 L322.0,230.5 L322.5,230.6 L323.0,230.6 L323.5,230.7 L324.0,230.7 L324.5,230.8 L325.0,230.9 L325.5,230.9 L326.0,231.0 L326.5,231.0 L327.0,231.1 L327.5,231.1 L328.0,231.2 L328.5,231.2 L329.0,231.3 L329.5,231.3 L330.0,231.4 L330.5,231.4 L331.0,231.5 L331.5,231.5 L332.0,231.6 L332.5,231.6 L333.0,231.7 L333.5,231.7 L334.0,231.8 L334.5,231.8 L335.0,231.9 L335.5,231.9 L336.0,232.0 L336.5,232.0 L337.0,232.1 L337.5,232.1 L338.0,232.2 L338.5,232.2 L339.0,232.3 L339.5,232.3 L340.0,232.3 L340.5,232.4 L341.0,232.4 L341.5,232.5 L342.0,232.5 L342.5,232.6 L343.0,232.6 L343.5,232.6 L344.0,232.7 L344.5,232.7 L345.0,232.8 L345.5,232.8 L346.0,232.8 L346.5,232.9 L347.0,232.9 L347.5,233.0 L348.0,233.0 L348.5,233.0 L349.0,233.1 L349.5,233.1 L350.0,233.2 L350.5,233.2 L351.0,233.2 L351.5,233.3 L352.0,233.3 L352.5,233.3 L353.0,233.4 L353.5,233.4 L354.0,233.4 L354.5,233.5 L355.0,233.5 L355.5,233.5 L356.0,233.6 L356.5,233.6 L357.0,233.6 L357.5,233.6 L358.0,233.7 L358.5,233.7 L359.0,233.7 L359.5,233.8 L360.0,233.8 L360.5,233.8 L361.0,233.8 L361.5,233.9 L362.0,233.9 L362.5,233.9 L363.0,233.9 L363.5,234.0 L364.0,234.0 L364.5,234.0 L365.0,234.0 L365.5,234.1 L366.0,234.1 L366.5,234.1 L367.0,234.1 L367.5,234.1" fill="none" stroke="#2e2eff" stroke-width="1.1" stroke-dasharray="6 2 1.5 2"/>
<path d="M39.0,244.2 L39.5,244.5 L40.0,244.8 L40.5,245.1 L41.0,245.4 L41.5,245.7 L42.0,246.0 L42.5,246.3 L43.0,246.5 L43.5,246.8 L44.0,247.1 L44.5,247.3 L45.0,247.6 L45.5,247.9 L46.0,248.2 L46.5,248.5 L47.0,248.8 L47.5,249.1 L48.0,249.5 L48.5,249.8 L49.0,250.2 L49.5,250.6 L50.0,251.0 L50.5,251.5 L51.0,251.9 L51.5,252.3 L52.0,252.7 L52.5,253.0 L53.0,253.3 L53.5,253.5 L54.0,253.5 L54.5,253.4 L55.0,253.2 L55.5,252.8 L56.0,252.4 L56.5,251.8 L57.0,251.1 L57.5,250.3 L58.0,249.4 L58.5,248.4 L59.0,247.4 L59.5,246.2 L60.0,245.0 L60.5,243.7 L61.0,242.4 L61.5,241.0 L62.0,239.6 L62.5,238.1 L63.0,236.6 L63.5,235.1 L64.0,233.5 L64.5,231.9 L65.0,230.2 L65.5,228.5 L66.0,226.9 L66.5,225.1 L67.0,223.4 L67.5,221.7 L68.0,220.0 L68.5,218.2 L69.0,216.5 L69.5,214.7 L70.0,213.0 L70.5,211.3 L71.0,209.6 L71.5,207.9 L72.0,206.2 L72.5,204.5 L73.0,202.8 L73.5,201.1 L74.0,199.5 L74.5,197.9 L75.0,196.3 L75.5,194.7 L76.0,193.1 L76.5,191.6 L77.0,190.1 L77.5,188.6 L78.0,187.1 L78.5,185.6 L79.0,184.2 L79.5,182.7 L80.0,181.3 L80.5,179.9 L81.0,178.6 L81.5,177.2 L82.0,175.9 L82.5,174.6 L83.0,173.3 L83.5,172.0 L84.0,170.7 L84.5,169.5 L85.0,168.2 L85.5,167.0 L86.0,165.8 L86.5,164.7 L87.0,163.5 L87.5,162.4 L88.0,161.2 L88.5,160.1 L89.0,159.0 L89.5,157.9 L90.0,156.9 L90.5,155.8 L91.0,154.8 L91.5,153.7 L92.0,152.7 L92.5,151.7 L93.0,150.7 L93.5,149.8 L94.0,148.8 L94.5,147.9 L95.0,147.0 L95.5,146.0 L96.0,145.1 L96.5,144.3 L97.0,143.4 L97.5,142.5 L98.0,141.7 L98.5,140.8 L99.0,140.0 L99.5,139.2 L100.0,138.4 L100.5,137.6 L101.0,136.9 L101.5,136.1 L102.0,135.4 L102.5,134.6 L103.0,133.9 L103.5,133.2 L104.0,132.5 L104.5,131.8 L105.0,131.2 L105.5,130.5 L106.0,129.9 L106.5,129.2 L107.0,128.6 L107.5,128.0 L108.0,127.4 L108.5,126.8 L109.0,126.2 L109.5,125.6 L110.0,125.1 L110.5,124.5 L111.0,124.0 L111.5,123.5 L112.0,122.9 L112.5,122.4 L113.0,121.9 L113.5,121.5 L114.0,121.0 L114.5,120.5 L115.0,120.1 L115.5,119.6 L116.0,119.2 L116.5,118.8 L117.0,118.4 L117.5,117.9 L118.0,117.6 L118.5,117.2 L119.0,116.8 L119.5,116.4 L120.0,116.1 L120.5,115.7 L121.0,115.4 L121.5,115.0 L122.0,114.7 L122.5,114.4 L123.0,114.1 L123.5,113.8 L124.0,113.5 L124.5,113.3 L125.0,113.0 L125.5,112.7 L126.0,112.5 L126.5,112.2 L127.0,112.0 L127.5,111.8 L128.0,111.5 L128.5,111.3 L129.0,111.1 L129.5,110.9 L130.0,110.7 L130.5,110.6 L131.0,110.4 L131.5,110.2 L132.0,110.1 L132.5,109.9 L133.0,109.8 L133.5,109.6 L134.0,109.5 L134.5,109.4 L135.0,109.3 L135.5,109.2 L136.0,109.1 L136.5,109.0 L137.0,108.9 L137.5,108.8 L138.0,108.7 L138.5,108.7 L139.0,108.6 L139.5,108.5 L140.0,108.5 L140.5,108.4 L141.0,108.4 L141.5,108.4 L142.0,108.3 L142.5,108.3 L143.0,108.3 L143.5,108.3 L144.0,108.3 L144.5,108.3 L145.0,108.3 L145.5,108.3 L146.0,108.3 L146.5,108.3 L147.0,108.4 L147.5,108.4 L148.0,108.4 L148.5,108.5 L149.0,108.5 L149.5,108.6 L150.0,108.7 L150.5,108.7 L151.0,108.8 L151.5,108.9 L152.0,108.9 L152.5,109.0 L153.0,109.1 L153.5,109.2 L154.0,109.3 L154.5,109.4 L155.0,109.5 L155.5,109.6 L156.0,109.7 L156.5,109.9 L157.0,110.0 L157.5,110.1 L158.0,110.2 L158.5,110.4 L159.0,110.5 L159.5,110.7 L160.0,110.8 L160.5,111.0 L161.0,111.1 L161.5,111.3 L162.0,111.4 L162.5,111.6 L163.0,111.8 L163.5,112.0 L164.0,112.1 L164.5,112.3 L165.0,112.5 L165.5,112.7 L166.0,112.9 L166.5,113.1 L167.0,113.3 L167.5,113.5 L168.0,113.7 L168.5,113.9 L169.0,114.1 L169.5,114.3 L170.0,114.5 L170.5,114.8 L171.0,115.0 L171.5,115.2 L172.0,115.4 L172.5,115.7 L173.0,115.9 L173.5,116.2 L174.0,116.4 L174.5,116.6 L175.0,116.9 L175.5,117.1 L176.0,117.4 L176.5,117.6 L177.0,117.9 L177.5,118.1 L178.0,118.4 L178.5,118.7 L179.0,118.9 L179.5,119.2 L180.0,119.5 L180.5,119.7 L181.0,120.0 L181.5,120.3 L182.0,120.6 L182.5,120.8 L183.0,121.1 L183.5,121.4 L184.0,121.7 L184.5,122.0 L185.0,122.3 L185.5,122.5 L186.0,122.8 L186.5,123.1 L187.0,123.4 L187.5,123.7 L188.0,124.0 L188.5,124.3 L189.0,124.6 L189.5,124.9 L190.0,125.2 L190.5,125.5 L191.0,125.8 L191.5,126.1 L192.0,126.4 L192.5,126.7 L193.0,127.0 L193.5,127.3 L194.0,127.6 L194.5,127.9 L195.0,128.2 L195.5,128.5 L196.0,128.8 L196.5,129.2 L197.0,129.5 L197.5,129.8 L198.0,130.1 L198.5,130.4 L199.0,130.7 L199.5,131.0 L200.0,131.3 L200.5,131.6 L201.0,131.9 L201.5,132.3 L202.0,132.6 L202.5,132.9 L203.0,133.2 L203.5,133.5 L204.0,133.8 L204.5,134.1 L205.0,134.4 L205.5,134.8 L206.0,135.1 L206.5,135.4 L207.0,135.7 L207.5,136.0 L208.0,136.3 L208.5,136.7 L209.0,137.0 L209.5,137.3 L210.0,137.6 L210.5,137.9 L211.0,138.2 L211.5,138.6 L212.0,138.9 L212.5,139.2 L213.0,139.5 L213.5,139.8 L214.0,140.1 L214.5,140.5 L215.0,140.8 L215.5,141.1 L216.0,141.4 L216.5,141.7 L217.0,142.1 L217.5,142.4 L218.0,142.7 L218.5,143.0 L219.0,143.3 L219.5,143.7 L220.0,144.0 L220.5,144.3 L221.0,144.6 L221.5,144.9 L222.0,145.3 L222.5,145.6 L223.0,145.9 L223.5,146.2 L224.0,146.6 L224.5,146.9 L225.0,147.2 L225.5,147.5 L226.0,147.8 L226.5,148.2 L227.0,148.5 L227.5,148.8 L228.0,149.1 L228.5,149.4 L229.0,149.8 L229.5,150.1 L230.0,150.4 L230.5,150.7 L231.0,151.1 L231.5,151.4 L232.0,151.7 L232.5,152.0 L233.0,152.3 L233.5,152.7 L234.0,153.0 L234.5,153.3 L235.0,153.6 L235.5,153.9 L236.0,154.3 L236.5,154.6 L237.0,154.9 L237.5,155.2 L238.0,155.6 L238.5,155.9 L239.0,156.2 L239.5,156.5 L240.0,156.8 L240.5,157.2 L241.0,157.5 L241.5,157.8 L242.0,158.1 L242.5,158.4 L243.0,158.8 L243.5,159.1 L244.0,159.4 L244.5,159.7 L245.0,160.0 L245.5,160.3 L246.0,160.7 L246.5,161.0 L247.0,161.3 L247.5,161.6 L248.0,161.9 L248.5,162.2 L249.0,162.6 L249.5,162.9 L250.0,163.2 L250.5,163.5 L251.0,163.8 L251.5,164.1 L252.0,164.5 L252.5,164.8 L253.0,165.1 L253.5,165.4 L254.0,165.7 L254.5,166.0 L255.0,166.3 L255.5,166.7 L256.0,167.0 L256.5,167.3 L257.0,167.6 L257.5,167.9 L258.0,168.2 L258.5,168.5 L259.0,168.8 L259.5,169.2 L260.0,169.5 L260.5,169.8 L261.0,170.1 L261.5,170.4 L262.0,170.7 L262.5,171.0 L263.0,171.3 L263.5,171.6 L264.0,171.9 L264.5,172.2 L265.0,172.5 L265.5,172.8 L266.0,173.2 L266.5,173.5 L267.0,173.8 L267.5,174.1 L268.0,174.4 L268.5,174.7 L269.0,175.0 L269.5,175.3 L270.0,175.6 L270.5,175.9 L271.0,176.2 L271.5,176.5 L272.0,176.8 L272.5,177.1 L273.0,177.4 L273.5,177.7 L274.0,178.0 L274.5,178.3 L275.0,178.6 L275.5,178.9 L276.0,179.2 L276.5,179.5 L277.0,179.8 L277.5,180.1 L278.0,180.4 L278.5,180.7 L279.0,181.0 L279.5,181.3 L280.0,181.6 L280.5,181.9 L281.0,182.2 L281.5,182.5 L282.0,182.8 L282.5,183.1 L283.0,183.4 L283.5,183.7 L284.0,184.0 L284.5,184.3 L285.0,184.6 L285.5,184.9 L286.0,185.2 L286.5,185.5 L287.0,185.8 L287.5,186.0 L288.0,186.3 L288.5,186.6 L289.0,186.9 L289.5,187.2 L290.0,187.5 L290.5,187.8 L291.0,188.1 L291.5,188.4 L292.0,188.7 L292.5,189.0 L293.0,189.3 L293.5,189.6 L294.0,189.8 L294.5,190.1 L295.0,190.4 L295.5,190.7 L296.0,191.0 L296.5,191.3 L297.0,191.6 L297.5,191.9 L298.0,192.2 L298.5,192.5 L299.0,192.7 L299.5,193.0 L300.0,193.3 L300.5,193.6 L301.0,193.9 L301.5,194.2 L302.0,194.5 L302.5,194.8 L303.0,195.1 L303.5,195.3 L304.0,195.6 L304.5,195.9 L305.0,196.2 L305.5,196.5 L306.0,196.8 L306.5,197.1 L307.0,197.3 L307.5,197.6 L308.0,197.9 L308.5,198.2 L309.0,198.5 L309.5,198.8 L310.0,199.1 L310.5,199.3 L311.0,199.6 L311.5,199.9 L312.0,200.2 L312.5,200.5 L313.0,200.8 L313.5,201.0 L314.0,201.3 L314.5,201.6 L315.0,201.9 L315.5,202.2 L316.0,202.5 L316.5,202.7 L317.0,203.0 L317.5,203.3 L318.0,203.6 L318.5,203.9 L319.0,204.1 L319.5,204.4 L320.0,204.7 L320.5,205.0 L321.0,205.3 L321.5,205.5 L322.0,205.8 L322.5,206.1 L323.0,206.4 L323.5,206.7 L324.0,206.9 L324.5,207.2 L325.0,207.5 L325.5,207.8 L326.0,208.1 L326.5,208.3 L327.0,208.6 L327.5,208.9 L328.0,209.2 L328.5,209.5 L329.0,209.7 L329.5,210.0 L330.0,210.3 L330.5,210.6 L331.0,210.9 L331.5,211.1 L332.0,211.4 L332.5,211.7 L333.0,212.0 L333.5,212.2 L334.0,212.5 L334.5,212.8 L335.0,213.1 L335.5,213.4 L336.0,213.6 L336.5,213.9 L337.0,214.2 L337.5,214.5 L338.0,214.7 L338.5,215.0 L339.0,215.3 L339.5,215.6 L340.0,215.8 L340.5,216.1 L341.0,216.4 L341.5,216.7 L342.0,216.9 L342.5,217.2 L343.0,217.5 L343.5,217.8 L344.0,218.1 L344.5,218.3 L345.0,218.6 L345.5,218.9 L346.0,219.2 L346.5,219.4 L347.0,219.7 L347.5,220.0 L348.0,220.3 L348.5,220.5 L349.0,220.8 L349.5,221.1 L350.0,221.4 L350.5,221.6 L351.0,221.9 L351.5,222.2 L352.0,222.5 L352.5,222.7 L353.0,223.0 L353.5,223.3 L354.0,223.5 L354.5,223.8 L355.0,224.1 L355.5,224.4 L356.0,224.6 L356.5,224.9 L357.0,225.2 L357.5,225.5 L358.0,225.7 L358.5,226.0 L359.0,226.3 L359.5,226.6 L360.0,226.8 L360.5,227.1 L361.0,227.4 L361.5,227.7 L362.0,227.9 L362.5,228.2 L363.0,228.5 L363.5,228.8 L364.0,229.0 L364.5,229.3 L365.0,229.6 L365.5,229.8 L366.0,230.1 L366.5,230.4 L367.0,230.7 L367.5,230.9" fill="none" stroke="#ff2020" stroke-width="1.0" />
<path d="M39.0,244.2 L39.5,244.6 L40.0,244.9 L40.5,245.3 L41.0,245.6 L41.5,245.9 L42.0,246.1 L42.5,246.4 L43.0,246.6 L43.5,246.8 L44.0,247.1 L44.5,247.3 L45.0,247.5 L45.5,247.8 L46.0,248.0 L46.5,248.3 L47.0,248.5 L47.5,248.8 L48.0,249.2 L48.5,249.5 L49.0,249.9 L49.5,250.3 L50.0,250.8 L50.5,251.3 L51.0,251.8 L51.5,252.2 L52.0,252.6 L52.5,252.8 L53.0,252.8 L53.5,252.7 L54.0,252.2 L54.5,251.6 L55.0,250.7 L55.5,249.5 L56.0,248.2 L56.5,246.9 L57.0,245.7 L57.5,244.7 L58.0,243.6 L58.5,242.4 L59.0,240.9 L59.5,238.8 L60.0,236.2 L60.5,233.3 L61.0,230.3 L61.5,227.3 L62.0,224.5 L62.5,221.6 L63.0,218.7 L63.5,215.9 L64.0,213.1 L64.5,210.4 L65.0,207.8 L65.5,205.4 L66.0,203.1 L66.5,200.8 L67.0,198.4 L67.5,195.9 L68.0,193.3 L68.5,190.4 L69.0,187.3 L69.5,183.9 L70.0,180.5 L70.5,176.9 L71.0,173.4 L71.5,170.1 L72.0,166.9 L72.5,163.9 L73.0,161.1 L73.5,158.4 L74.0,155.9 L74.5,153.5 L75.0,151.3 L75.5,149.2 L76.0,147.1 L76.5,145.2 L77.0,143.3 L77.5,141.5 L78.0,139.7 L78.5,138.0 L79.0,136.2 L79.5,134.5 L80.0,132.8 L80.5,131.0 L81.0,129.2 L81.5,127.4 L82.0,125.5 L82.5,123.6 L83.0,121.7 L83.5,119.8 L84.0,117.9 L84.5,116.0 L85.0,114.1 L85.5,112.2 L86.0,110.4 L86.5,108.6 L87.0,106.9 L87.5,105.3 L88.0,103.6 L88.5,102.1 L89.0,100.5 L89.5,99.0 L90.0,97.6 L90.5,96.2 L91.0,94.8 L91.5,93.5 L92.0,92.2 L92.5,91.0 L93.0,89.7 L93.5,88.6 L94.0,87.4 L94.5,86.3 L95.0,85.2 L95.5,84.1 L96.0,83.1 L96.5,82.1 L97.0,81.1 L97.5,80.2 L98.0,79.2 L98.5,78.3 L99.0,77.4 L99.5,76.6 L100.0,75.7 L100.5,74.9 L101.0,74.1 L101.5,73.3 L102.0,72.6 L102.5,71.8 L103.0,71.1 L103.5,70.4 L104.0,69.8 L104.5,69.1 L105.0,68.5 L105.5,67.8 L106.0,67.2 L106.5,66.7 L107.0,66.1 L107.5,65.6 L108.0,65.0 L108.5,64.5 L109.0,64.0 L109.5,63.6 L110.0,63.1 L110.5,62.7 L111.0,62.2 L111.5,61.8 L112.0,61.5 L112.5,61.1 L113.0,60.7 L113.5,60.4 L114.0,60.1 L114.5,59.8 L115.0,59.5 L115.5,59.2 L116.0,58.9 L116.5,58.7 L117.0,58.4 L117.5,58.2 L118.0,58.0 L118.5,57.8 L119.0,57.6 L119.5,57.5 L120.0,57.3 L120.5,57.2 L121.0,57.0 L121.5,56.9 L122.0,56.8 L122.5,56.7 L123.0,56.7 L123.5,56.6 L124.0,56.5 L124.5,56.5 L125.0,56.5 L125.5,56.4 L126.0,56.4 L126.5,56.4 L127.0,56.4 L127.5,56.5 L128.0,56.5 L128.5,56.5 L129.0,56.6 L129.5,56.6 L130.0,56.7 L130.5,56.8 L131.0,56.9 L131.5,57.0 L132.0,57.1 L132.5,57.2 L133.0,57.3 L133.5,57.5 L134.0,57.6 L134.5,57.8 L135.0,57.9 L135.5,58.1 L136.0,58.3 L136.5,58.5 L137.0,58.6 L137.5,58.8 L138.0,59.1 L138.5,59.3 L139.0,59.5 L139.5,59.7 L140.0,59.9 L140.5,60.2 L141.0,60.4 L141.5,60.7 L142.0,60.9 L142.5,61.2 L143.0,61.5 L143.5,61.7 L144.0,62.0 L144.5,62.3 L145.0,62.6 L145.5,62.9 L146.0,63.2 L146.5,63.5 L147.0,63.8 L147.5,64.1 L148.0,64.4 L148.5,64.8 L149.0,65.1 L149.5,65.4 L150.0,65.7 L150.5,66.1 L151.0,66.4 L151.5,66.7 L152.0,67.1 L152.5,67.4 L153.0,67.8 L153.5,68.1 L154.0,68.5 L154.5,68.8 L155.0,69.2 L155.5,69.6 L156.0,69.9 L156.5,70.3 L157.0,70.6 L157.5,71.0 L158.0,71.4 L158.5,71.7 L159.0,72.1 L159.5,72.5 L160.0,72.8 L160.5,73.2 L161.0,73.6 L161.5,73.9 L162.0,74.3 L162.5,74.7 L163.0,75.1 L163.5,75.4 L164.0,75.8 L164.5,76.2 L165.0,76.6 L165.5,77.0 L166.0,77.3 L166.5,77.7 L167.0,78.1 L167.5,78.5 L168.0,78.9 L168.5,79.3 L169.0,79.7 L169.5,80.1 L170.0,80.4 L170.5,80.8 L171.0,81.2 L171.5,81.6 L172.0,82.0 L172.5,82.4 L173.0,82.8 L173.5,83.2 L174.0,83.6 L174.5,84.0 L175.0,84.4 L175.5,84.8 L176.0,85.2 L176.5,85.6 L177.0,86.0 L177.5,86.4 L178.0,86.8 L178.5,87.2 L179.0,87.6 L179.5,88.0 L180.0,88.4 L180.5,88.9 L181.0,89.3 L181.5,89.7 L182.0,90.1 L182.5,90.5 L183.0,90.9 L183.5,91.3 L184.0,91.7 L184.5,92.2 L185.0,92.6 L185.5,93.0 L186.0,93.4 L186.5,93.8 L187.0,94.2 L187.5,94.6 L188.0,95.1 L188.5,95.5 L189.0,95.9 L189.5,96.3 L190.0,96.7 L190.5,97.2 L191.0,97.6 L191.5,98.0 L192.0,98.4 L192.5,98.9 L193.0,99.3 L193.5,99.7 L194.0,100.1 L194.5,100.5 L195.0,101.0 L195.5,101.4 L196.0,101.8 L196.5,102.2 L197.0,102.7 L197.5,103.1 L198.0,103.5 L198.5,103.9 L199.0,104.4 L199.5,104.8 L200.0,105.2 L200.5,105.7 L201.0,106.1 L201.5,106.5 L202.0,106.9 L202.5,107.4 L203.0,107.8 L203.5,108.2 L204.0,108.7 L204.5,109.1 L205.0,109.5 L205.5,109.9 L206.0,110.4 L206.5,110.8 L207.0,111.2 L207.5,111.7 L208.0,112.1 L208.5,112.5 L209.0,112.9 L209.5,113.4 L210.0,113.8 L210.5,114.2 L211.0,114.7 L211.5,115.1 L212.0,115.5 L212.5,116.0 L213.0,116.4 L213.5,116.8 L214.0,117.2 L214.5,117.7 L215.0,118.1 L215.5,118.5 L216.0,119.0 L216.5,119.4 L217.0,119.8 L217.5,120.2 L218.0,120.7 L218.5,121.1 L219.0,121.5 L219.5,122.0 L220.0,122.4 L220.5,122.8 L221.0,123.2 L221.5,123.7 L222.0,124.1 L222.5,124.5 L223.0,124.9 L223.5,125.4 L224.0,125.8 L224.5,126.2 L225.0,126.6 L225.5,127.1 L226.0,127.5 L226.5,127.9 L227.0,128.3 L227.5,128.8 L228.0,129.2 L228.5,129.6 L229.0,130.0 L229.5,130.4 L230.0,130.9 L230.5,131.3 L231.0,131.7 L231.5,132.1 L232.0,132.5 L232.5,132.9 L233.0,133.4 L233.5,133.8 L234.0,134.2 L234.5,134.6 L235.0,135.0 L235.5,135.4 L236.0,135.8 L236.5,136.3 L237.0,136.7 L237.5,137.1 L238.0,137.5 L238.5,137.9 L239.0,138.3 L239.5,138.7 L240.0,139.1 L240.5,139.5 L241.0,139.9 L241.5,140.4 L242.0,140.8 L242.5,141.2 L243.0,141.6 L243.5,142.0 L244.0,142.4 L244.5,142.8 L245.0,143.2 L245.5,143.6 L246.0,144.0 L246.5,144.4 L247.0,144.8 L247.5,145.2 L248.0,145.6 L248.5,146.0 L249.0,146.4 L249.5,146.8 L250.0,147.2 L250.5,147.6 L251.0,148.0 L251.5,148.4 L252.0,148.8 L252.5,149.1 L253.0,149.5 L253.5,149.9 L254.0,150.3 L254.5,150.7 L255.0,151.1 L255.5,151.5 L256.0,151.9 L256.5,152.3 L257.0,152.7 L257.5,153.1 L258.0,153.4 L258.5,153.8 L259.0,154.2 L259.5,154.6 L260.0,155.0 L260.5,155.4 L261.0,155.8 L261.5,156.1 L262.0,156.5 L262.5,156.9 L263.0,157.3 L263.5,157.7 L264.0,158.0 L264.5,158.4 L265.0,158.8 L265.5,159.2 L266.0,159.6 L266.5,159.9 L267.0,160.3 L267.5,160.7 L268.0,161.1 L268.5,161.5 L269.0,161.8 L269.5,162.2 L270.0,162.6 L270.5,162.9 L271.0,163.3 L271.5,163.7 L272.0,164.1 L272.5,164.4 L273.0,164.8 L273.5,165.2 L274.0,165.5 L274.5,165.9 L275.0,166.3 L275.5,166.7 L276.0,167.0 L276.5,167.4 L277.0,167.8 L277.5,168.1 L278.0,168.5 L278.5,168.8 L279.0,169.2 L279.5,169.6 L280.0,169.9 L280.5,170.3 L281.0,170.7 L281.5,171.0 L282.0,171.4 L282.5,171.7 L283.0,172.1 L283.5,172.5 L284.0,172.8 L284.5,173.2 L285.0,173.5 L285.5,173.9 L286.0,174.2 L286.5,174.6 L287.0,175.0 L287.5,175.3 L288.0,175.7 L288.5,176.0 L289.0,176.4 L289.5,176.7 L290.0,177.1 L290.5,177.4 L291.0,177.8 L291.5,178.1 L292.0,178.5 L292.5,178.8 L293.0,179.2 L293.5,179.5 L294.0,179.9 L294.5,180.2 L295.0,180.6 L295.5,180.9 L296.0,181.3 L296.5,181.6 L297.0,182.0 L297.5,182.3 L298.0,182.6 L298.5,183.0 L299.0,183.3 L299.5,183.7 L300.0,184.0 L300.5,184.3 L301.0,184.7 L301.5,185.0 L302.0,185.4 L302.5,185.7 L303.0,186.0 L303.5,186.4 L304.0,186.7 L304.5,187.1 L305.0,187.4 L305.5,187.7 L306.0,188.1 L306.5,188.4 L307.0,188.7 L307.5,189.1 L308.0,189.4 L308.5,189.7 L309.0,190.1 L309.5,190.4 L310.0,190.7 L310.5,191.0 L311.0,191.4 L311.5,191.7 L312.0,192.0 L312.5,192.4 L313.0,192.7 L313.5,193.0 L314.0,193.3 L314.5,193.7 L315.0,194.0 L315.5,194.3 L316.0,194.6 L316.5,195.0 L317.0,195.3 L317.5,195.6 L318.0,195.9 L318.5,196.3 L319.0,196.6 L319.5,196.9 L320.0,197.2 L320.5,197.5 L321.0,197.9 L321.5,198.2 L322.0,198.5 L322.5,198.8 L323.0,199.1 L323.5,199.4 L324.0,199.8 L324.5,200.1 L325.0,200.4 L325.5,200.7 L326.0,201.0 L326.5,201.3 L327.0,201.6 L327.5,201.9 L328.0,202.3 L328.5,202.6 L329.0,202.9 L329.5,203.2 L330.0,203.5 L330.5,203.8 L331.0,204.1 L331.5,204.4 L332.0,204.7 L332.5,205.0 L333.0,205.3 L333.5,205.7 L334.0,206.0 L334.5,206.3 L335.0,206.6 L335.5,206.9 L336.0,207.2 L336.5,207.5 L337.0,207.8 L337.5,208.1 L338.0,208.4 L338.5,208.7 L339.0,209.0 L339.5,209.3 L340.0,209.6 L340.5,209.9 L341.0,210.2 L341.5,210.5 L342.0,210.8 L342.5,211.1 L343.0,211.4 L343.5,211.7 L344.0,212.0 L344.5,212.3 L345.0,212.6 L345.5,212.8 L346.0,213.1 L346.5,213.4 L347.0,213.7 L347.5,214.0 L348.0,214.3 L348.5,214.6 L349.0,214.9 L349.5,215.2 L350.0,215.5 L350.5,215.8 L351.0,216.0 L351.5,216.3 L352.0,216.6 L352.5,216.9 L353.0,217.2 L353.5,217.5 L354.0,217.8 L354.5,218.0 L355.0,218.3 L355.5,218.6 L356.0,218.9 L356.5,219.2 L357.0,219.5 L357.5,219.7 L358.0,220.0 L358.5,220.3 L359.0,220.6 L359.5,220.9 L360.0,221.1 L360.5,221.4 L361.0,221.7 L361.5,222.0 L362.0,222.3 L362.5,222.5 L363.0,222.8 L363.5,223.1 L364.0,223.4 L364.5,223.6 L365.0,223.9 L365.5,224.2 L366.0,224.5 L366.5,224.7 L367.0,225.0 L367.5,225.3" fill="none" stroke="#00e628" stroke-width="1.2" stroke-dasharray="7 3.5"/>
<path d="M38.7,22.2 L38.7,281.1 L367.2,281.1" fill="none" stroke="#404040" stroke-width="1"/>
<line x1="38.7" y1="281.10" x2="41.7" y2="281.10" stroke="#404040" stroke-width="1"/>
<text class="l" x="34.6" y="286.20" text-anchor="end" font-size="10" fill="#333">-2</text>
<line x1="38.7" y1="248.74" x2="41.7" y2="248.74" stroke="#404040" stroke-width="1"/>
<text class="l" x="34.6" y="253.84" text-anchor="end" font-size="10" fill="#333">0</text>
<line x1="38.7" y1="216.38" x2="41.7" y2="216.38" stroke="#404040" stroke-width="1"/>
<text class="l" x="34.6" y="221.48" text-anchor="end" font-size="10" fill="#333">2</text>
<line x1="38.7" y1="184.02" x2="41.7" y2="184.02" stroke="#404040" stroke-width="1"/>
<text class="l" x="34.6" y="189.12" text-anchor="end" font-size="10" fill="#333">4</text>
<line x1="38.7" y1="151.66" x2="41.7" y2="151.66" stroke="#404040" stroke-width="1"/>
<text class="l" x="34.6" y="156.76" text-anchor="end" font-size="10" fill="#333">6</text>
<line x1="38.7" y1="119.30" x2="41.7" y2="119.30" stroke="#404040" stroke-width="1"/>
<text class="l" x="34.6" y="124.40" text-anchor="end" font-size="10" fill="#333">8</text>
<line x1="38.7" y1="86.94" x2="41.7" y2="86.94" stroke="#404040" stroke-width="1"/>
<text class="l" x="34.6" y="92.04" text-anchor="end" font-size="10" fill="#333">10</text>
<line x1="38.7" y1="54.58" x2="41.7" y2="54.58" stroke="#404040" stroke-width="1"/>
<text class="l" x="34.6" y="59.68" text-anchor="end" font-size="10" fill="#333">12</text>
<line x1="38.7" y1="22.22" x2="41.7" y2="22.22" stroke="#404040" stroke-width="1"/>
<text class="l" x="34.6" y="27.32" text-anchor="end" font-size="10" fill="#333">14</text>
<line x1="38.70" y1="281.1" x2="38.70" y2="278.1" stroke="#404040" stroke-width="1"/>
<text class="l" x="38.70" y="296.6" text-anchor="middle" font-size="10" fill="#333">0</text>
<line x1="93.50" y1="281.1" x2="93.50" y2="278.1" stroke="#404040" stroke-width="1"/>
<text class="l" x="93.50" y="296.6" text-anchor="middle" font-size="10" fill="#333">50</text>
<line x1="148.30" y1="281.1" x2="148.30" y2="278.1" stroke="#404040" stroke-width="1"/>
<text class="l" x="148.30" y="296.6" text-anchor="middle" font-size="10" fill="#333">100</text>
<line x1="203.10" y1="281.1" x2="203.10" y2="278.1" stroke="#404040" stroke-width="1"/>
<text class="l" x="203.10" y="296.6" text-anchor="middle" font-size="10" fill="#333">150</text>
<line x1="257.90" y1="281.1" x2="257.90" y2="278.1" stroke="#404040" stroke-width="1"/>
<text class="l" x="257.90" y="296.6" text-anchor="middle" font-size="10" fill="#333">200</text>
<line x1="312.70" y1="281.1" x2="312.70" y2="278.1" stroke="#404040" stroke-width="1"/>
<text class="l" x="312.70" y="296.6" text-anchor="middle" font-size="10" fill="#333">250</text>
<line x1="367.50" y1="281.1" x2="367.50" y2="278.1" stroke="#404040" stroke-width="1"/>
<text class="l" x="367.50" y="296.6" text-anchor="middle" font-size="10" fill="#333">300</text>
<text x="38.8" y="20.6" font-size="11.5" fill="#666">×</text>
<text class="l" x="46.8" y="20.4" font-size="10" fill="#333">10</text>
<text class="l" x="57.7" y="14.8" font-size="7.5" fill="#333">6</text>
<text class="l" transform="translate(18.2,151.2) rotate(-90)" text-anchor="middle" font-size="11" fill="#333">ADC count</text>
<text class="l" x="203.1" y="311" text-anchor="middle" font-size="11" fill="#333">time (sec)</text>
<line x1="284.2" y1="37.40" x2="314.6" y2="37.40" stroke="#ff3030" stroke-width="1.05" />
<text x="316.5" y="40.70" font-size="9" fill="#222">MQ5</text>
<line x1="284.2" y1="50.70" x2="314.6" y2="50.70" stroke="#00e030" stroke-width="1.05" stroke-dasharray="7.5 4.2"/>
<text x="316.5" y="54.00" font-size="9" fill="#222">MQ6</text>
<line x1="284.2" y1="62.60" x2="314.6" y2="62.60" stroke="#3030ff" stroke-width="1.05" stroke-dasharray="6.5 2.3 0.9 2.2"/>
<text x="316.5" y="65.90" font-size="9" fill="#222">MQ4</text>
<line x1="284.2" y1="75.50" x2="314.6" y2="75.50" stroke="#ff70ff" stroke-width="1.05" stroke-dasharray="1.2 1.9"/>
<text x="316.5" y="78.80" font-size="9" fill="#222">TGS2602</text>
<text x="198" y="349.7" text-anchor="middle" font-size="13" font-weight="bold" fill="#000" stroke="#000" stroke-width="0.45">(A)</text>
<polyline points="485.86,197.80 590.42,134.30 729.84,51.00" fill="none" stroke="#8a8a8a" stroke-width="0.9"/>
<polyline points="485.86,212.00 590.42,173.60 729.84,102.80" fill="none" stroke="#ff7070" stroke-width="0.9"/>
<polyline points="485.86,258.60 590.42,240.00 729.84,220.70" fill="none" stroke="#4a8ee8" stroke-width="0.9"/>
<polyline points="485.86,279.90 590.42,275.90 729.84,247.70" fill="none" stroke="#4cc08c" stroke-width="0.9"/>
<rect x="483.11" y="195.05" width="5.50" height="5.50" fill="#444"/>
<rect x="587.67" y="131.55" width="5.50" height="5.50" fill="#444"/>
<rect x="727.09" y="48.25" width="5.50" height="5.50" fill="#444"/>
<circle cx="485.86" cy="212.00" r="3.05" fill="#f03c3c"/>
<circle cx="590.42" cy="173.60" r="3.05" fill="#f03c3c"/>
<circle cx="729.84" cy="102.80" r="3.05" fill="#f03c3c"/>
<path d="M485.86,255.50 L489.71,261.60 L482.00,261.60 Z" fill="#1a66e6"/>
<path d="M590.42,236.90 L594.27,243.00 L586.57,243.00 Z" fill="#1a66e6"/>
<path d="M729.84,217.60 L733.69,223.70 L725.99,223.70 Z" fill="#1a66e6"/>
<path d="M485.86,283.00 L489.71,276.90 L482.00,276.90 Z" fill="#16a862"/>
<path d="M590.42,279.00 L594.27,272.90 L586.57,272.90 Z" fill="#16a862"/>
<path d="M729.84,250.80 L733.69,244.70 L725.99,244.70 Z" fill="#16a862"/>
<path d="M451.0,31.0 L451.0,283.3 L764.8,283.3" fill="none" stroke="#111" stroke-width="1.3"/>
<line x1="446.20" y1="283.30" x2="451.0" y2="283.30" stroke="#111" stroke-width="1.2"/>
<text class="r" x="443.2" y="287.60" text-anchor="end" font-size="10.5" fill="#111">0.0</text>
<line x1="448.40" y1="270.70" x2="451.0" y2="270.70" stroke="#111" stroke-width="1.2"/>
<line x1="446.20" y1="258.11" x2="451.0" y2="258.11" stroke="#111" stroke-width="1.2"/>
<text class="r" x="438.6" y="262.41" text-anchor="end" font-size="10.5" fill="#111">2.0x10</text><text class="r" x="438.9" y="258.11" font-size="6.8" fill="#111">6</text>
<line x1="448.40" y1="245.52" x2="451.0" y2="245.52" stroke="#111" stroke-width="1.2"/>
<line x1="446.20" y1="232.92" x2="451.0" y2="232.92" stroke="#111" stroke-width="1.2"/>
<text class="r" x="438.6" y="237.22" text-anchor="end" font-size="10.5" fill="#111">4.0x10</text><text class="r" x="438.9" y="232.92" font-size="6.8" fill="#111">6</text>
<line x1="448.40" y1="220.33" x2="451.0" y2="220.33" stroke="#111" stroke-width="1.2"/>
<line x1="446.20" y1="207.73" x2="451.0" y2="207.73" stroke="#111" stroke-width="1.2"/>
<text class="r" x="438.6" y="212.03" text-anchor="end" font-size="10.5" fill="#111">6.0x10</text><text class="r" x="438.9" y="207.73" font-size="6.8" fill="#111">6</text>
<line x1="448.40" y1="195.13" x2="451.0" y2="195.13" stroke="#111" stroke-width="1.2"/>
<line x1="446.20" y1="182.54" x2="451.0" y2="182.54" stroke="#111" stroke-width="1.2"/>
<text class="r" x="438.6" y="186.84" text-anchor="end" font-size="10.5" fill="#111">8.0x10</text><text class="r" x="438.9" y="182.54" font-size="6.8" fill="#111">6</text>
<line x1="448.40" y1="169.94" x2="451.0" y2="169.94" stroke="#111" stroke-width="1.2"/>
<line x1="446.20" y1="157.35" x2="451.0" y2="157.35" stroke="#111" stroke-width="1.2"/>
<text class="r" x="438.6" y="161.65" text-anchor="end" font-size="10.5" fill="#111">1.0x10</text><text class="r" x="438.9" y="157.35" font-size="6.8" fill="#111">7</text>
<line x1="448.40" y1="144.75" x2="451.0" y2="144.75" stroke="#111" stroke-width="1.2"/>
<line x1="446.20" y1="132.16" x2="451.0" y2="132.16" stroke="#111" stroke-width="1.2"/>
<text class="r" x="438.6" y="136.46" text-anchor="end" font-size="10.5" fill="#111">1.2x10</text><text class="r" x="438.9" y="132.16" font-size="6.8" fill="#111">7</text>
<line x1="448.40" y1="119.56" x2="451.0" y2="119.56" stroke="#111" stroke-width="1.2"/>
<line x1="446.20" y1="106.97" x2="451.0" y2="106.97" stroke="#111" stroke-width="1.2"/>
<text class="r" x="438.6" y="111.27" text-anchor="end" font-size="10.5" fill="#111">1.4x10</text><text class="r" x="438.9" y="106.97" font-size="6.8" fill="#111">7</text>
<line x1="448.40" y1="94.38" x2="451.0" y2="94.38" stroke="#111" stroke-width="1.2"/>
<line x1="446.20" y1="81.78" x2="451.0" y2="81.78" stroke="#111" stroke-width="1.2"/>
<text class="r" x="438.6" y="86.08" text-anchor="end" font-size="10.5" fill="#111">1.6x10</text><text class="r" x="438.9" y="81.78" font-size="6.8" fill="#111">7</text>
<line x1="448.40" y1="69.19" x2="451.0" y2="69.19" stroke="#111" stroke-width="1.2"/>
<line x1="446.20" y1="56.59" x2="451.0" y2="56.59" stroke="#111" stroke-width="1.2"/>
<text class="r" x="438.6" y="60.89" text-anchor="end" font-size="10.5" fill="#111">1.8x10</text><text class="r" x="438.9" y="56.59" font-size="6.8" fill="#111">7</text>
<line x1="448.40" y1="44.00" x2="451.0" y2="44.00" stroke="#111" stroke-width="1.2"/>
<line x1="446.20" y1="31.40" x2="451.0" y2="31.40" stroke="#111" stroke-width="1.2"/>
<text class="r" x="438.6" y="35.70" text-anchor="end" font-size="10.5" fill="#111">2.0x10</text><text class="r" x="438.9" y="31.40" font-size="6.8" fill="#111">7</text>
<line x1="451.00" y1="283.3" x2="451.00" y2="288.10" stroke="#111" stroke-width="1.2"/>
<text class="r" x="451.00" y="300.4" text-anchor="middle" font-size="10.5" fill="#111">10</text>
<line x1="468.43" y1="283.3" x2="468.43" y2="285.90" stroke="#111" stroke-width="1.2"/>
<line x1="485.86" y1="283.3" x2="485.86" y2="288.10" stroke="#111" stroke-width="1.2"/>
<text class="r" x="485.86" y="300.4" text-anchor="middle" font-size="10.5" fill="#111">15</text>
<line x1="503.28" y1="283.3" x2="503.28" y2="285.90" stroke="#111" stroke-width="1.2"/>
<line x1="520.71" y1="283.3" x2="520.71" y2="288.10" stroke="#111" stroke-width="1.2"/>
<text class="r" x="520.71" y="300.4" text-anchor="middle" font-size="10.5" fill="#111">20</text>
<line x1="538.14" y1="283.3" x2="538.14" y2="285.90" stroke="#111" stroke-width="1.2"/>
<line x1="555.57" y1="283.3" x2="555.57" y2="288.10" stroke="#111" stroke-width="1.2"/>
<text class="r" x="555.57" y="300.4" text-anchor="middle" font-size="10.5" fill="#111">25</text>
<line x1="572.99" y1="283.3" x2="572.99" y2="285.90" stroke="#111" stroke-width="1.2"/>
<line x1="590.42" y1="283.3" x2="590.42" y2="288.10" stroke="#111" stroke-width="1.2"/>
<text class="r" x="590.42" y="300.4" text-anchor="middle" font-size="10.5" fill="#111">30</text>
<line x1="607.85" y1="283.3" x2="607.85" y2="285.90" stroke="#111" stroke-width="1.2"/>
<line x1="625.27" y1="283.3" x2="625.27" y2="288.10" stroke="#111" stroke-width="1.2"/>
<text class="r" x="625.27" y="300.4" text-anchor="middle" font-size="10.5" fill="#111">35</text>
<line x1="642.70" y1="283.3" x2="642.70" y2="285.90" stroke="#111" stroke-width="1.2"/>
<line x1="660.13" y1="283.3" x2="660.13" y2="288.10" stroke="#111" stroke-width="1.2"/>
<text class="r" x="660.13" y="300.4" text-anchor="middle" font-size="10.5" fill="#111">40</text>
<line x1="677.56" y1="283.3" x2="677.56" y2="285.90" stroke="#111" stroke-width="1.2"/>
<line x1="694.99" y1="283.3" x2="694.99" y2="288.10" stroke="#111" stroke-width="1.2"/>
<text class="r" x="694.99" y="300.4" text-anchor="middle" font-size="10.5" fill="#111">45</text>
<line x1="712.41" y1="283.3" x2="712.41" y2="285.90" stroke="#111" stroke-width="1.2"/>
<line x1="729.84" y1="283.3" x2="729.84" y2="288.10" stroke="#111" stroke-width="1.2"/>
<text class="r" x="729.84" y="300.4" text-anchor="middle" font-size="10.5" fill="#111">50</text>
<line x1="747.27" y1="283.3" x2="747.27" y2="285.90" stroke="#111" stroke-width="1.2"/>
<line x1="764.69" y1="283.3" x2="764.69" y2="288.10" stroke="#111" stroke-width="1.2"/>
<text class="r" x="764.69" y="300.4" text-anchor="middle" font-size="10.5" fill="#111">55</text>
<text class="r" transform="translate(401.5,157.9) rotate(-90)" text-anchor="middle" font-size="12.5" fill="#111">ADC count</text>
<text class="r" x="608.2" y="320.6" text-anchor="middle" font-size="13" fill="#111">Concentration (%)</text>
<text x="613.3" y="350.3" text-anchor="middle" font-size="13" font-weight="bold" fill="#000" stroke="#000" stroke-width="0.45">(B)</text>
<line x1="484.1" y1="10.7" x2="513.6" y2="10.7" stroke="#c8c8c8" stroke-width="1.8"/>
<rect x="496.24" y="8.09" width="5.22" height="5.22" fill="#444"/>
<text class="r" x="517.3" y="15.70" font-size="13" fill="#111">MQ6</text>
<line x1="553.0" y1="10.7" x2="582.0" y2="10.7" stroke="#ffc8c8" stroke-width="1.8"/>
<circle cx="567.50" cy="10.70" r="2.90" fill="#f03c3c"/>
<text class="r" x="586.0" y="15.70" font-size="13" fill="#111">MQ5</text>
<line x1="621.5" y1="10.7" x2="650.9" y2="10.7" stroke="#b8d4f4" stroke-width="1.8"/>
<path d="M636.20,7.75 L639.86,13.55 L632.54,13.55 Z" fill="#1a66e6"/>
<text class="r" x="654.0" y="15.70" font-size="13" fill="#111">MQ4</text>
<line x1="690.0" y1="10.7" x2="719.4" y2="10.7" stroke="#b4e8cc" stroke-width="1.8"/>
<path d="M704.70,13.64 L708.36,7.85 L701.04,7.85 Z" fill="#16a862"/>
<text class="r" x="723.1999999999999" y="15.70" font-size="13" fill="#111">TGS2602</text>
</svg></body></html>
